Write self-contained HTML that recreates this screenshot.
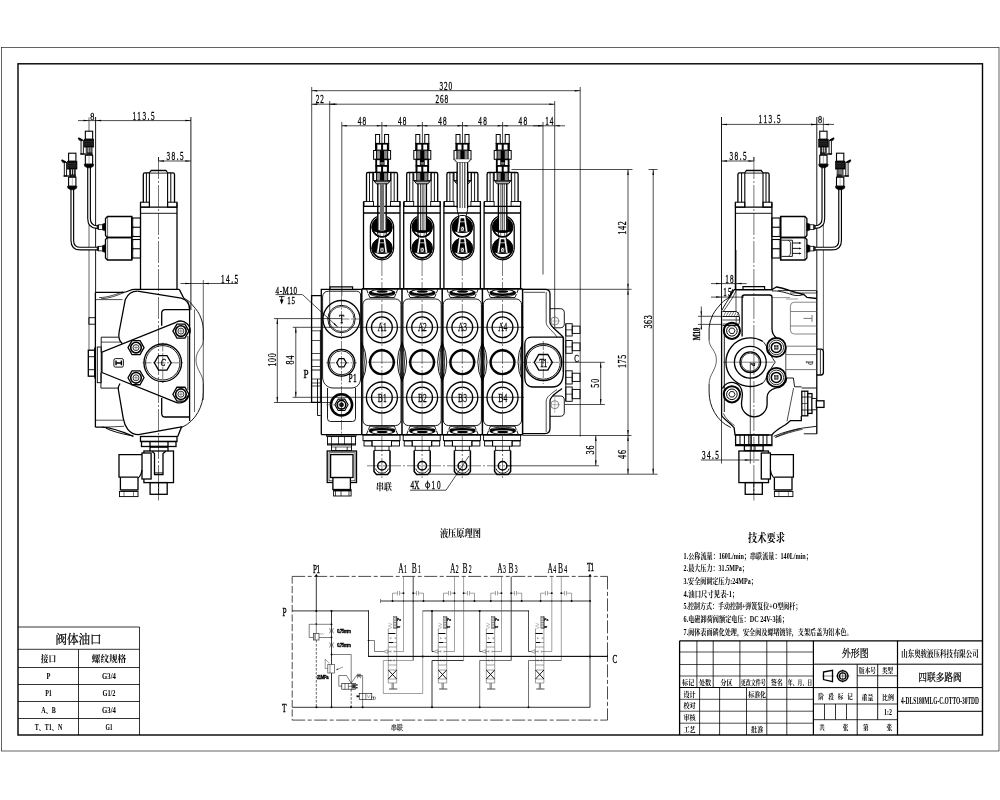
<!DOCTYPE html>
<html><head><meta charset="utf-8"><title>drawing</title><style>html,body{margin:0;padding:0;background:#fff}svg{display:block;will-change:transform}.tb{font-family:"Liberation Serif","Noto Serif CJK SC",serif;font-weight:bold;fill:#000;stroke:none}.tr{font-family:"Liberation Serif","Noto Serif CJK SC",serif;fill:#000;stroke:#000;stroke-width:0.25}</style></head>
<body><svg width="1000" height="800" viewBox="0 0 1000 800" fill="none" stroke="#000" stroke-linecap="butt"><rect x="0" y="0" width="1000" height="800" fill="#fff" stroke="none"/>
<rect x="1.5" y="47.5" width="997.5" height="703.5" stroke="#222" stroke-width="0.7" fill="none"/>
<rect x="18" y="63.8" width="964.5" height="671.2" stroke="#000" stroke-width="1.4" fill="none"/>
<path d="M18 627L139.5 627" stroke="#000" stroke-width="0.8"/>
<path d="M139.5 627L139.5 735" stroke="#000" stroke-width="0.8"/>
<path d="M18 649.3L139.5 649.3" stroke="#000" stroke-width="0.8"/>
<path d="M18 667.5L139.5 667.5" stroke="#000" stroke-width="0.8"/>
<path d="M18 684.5L139.5 684.5" stroke="#000" stroke-width="0.8"/>
<path d="M18 701.5L139.5 701.5" stroke="#000" stroke-width="0.8"/>
<path d="M18 718.5L139.5 718.5" stroke="#000" stroke-width="0.8"/>
<path d="M78.5 649.3L78.5 735" stroke="#000" stroke-width="0.8"/>
<text class="tr" x="55.46" y="643.5" font-size="12" textLength="46.1" lengthAdjust="spacingAndGlyphs">阀体油口</text>
<text class="tb" x="40.76" y="661.8" font-size="8.6" textLength="15.5" lengthAdjust="spacingAndGlyphs">接口</text>
<text class="tb" x="91.8" y="661.8" font-size="8.6" textLength="34.4" lengthAdjust="spacingAndGlyphs">螺纹规格</text>
<text class="tb" x="46.51" y="679.3" font-size="8.2" textLength="3.97" lengthAdjust="spacingAndGlyphs">P</text>
<text class="tb" x="102.08" y="679.3" font-size="8.2" textLength="13.83" lengthAdjust="spacingAndGlyphs">G3/4</text>
<text class="tb" x="45.14" y="696.3" font-size="8.2" textLength="6.72" lengthAdjust="spacingAndGlyphs">P1</text>
<text class="tb" x="102.46" y="696.3" font-size="8.2" textLength="13.08" lengthAdjust="spacingAndGlyphs">G1/2</text>
<text class="tb" x="41.26" y="713.3" font-size="8.2" textLength="14.56" lengthAdjust="spacingAndGlyphs">A、B</text>
<text class="tb" x="102.08" y="713.3" font-size="8.2" textLength="13.83" lengthAdjust="spacingAndGlyphs">G3/4</text>
<text class="tb" x="34.71" y="730.3" font-size="8.2" textLength="27.55" lengthAdjust="spacingAndGlyphs">T、T1、N</text>
<text class="tb" x="105.39" y="730.3" font-size="8.2" textLength="7.22" lengthAdjust="spacingAndGlyphs">G1</text>
<path d="M679.6 640.8L679.6 735" stroke="#000" stroke-width="1.3"/>
<path d="M679.6 640.8L982.5 640.8" stroke="#000" stroke-width="1.3"/>
<path d="M679.6 652L813.3 652" stroke="#000" stroke-width="0.7"/>
<path d="M679.6 664.5L813.3 664.5" stroke="#000" stroke-width="0.7"/>
<path d="M679.6 676L813.3 676" stroke="#000" stroke-width="0.7"/>
<path d="M679.6 687.5L813.3 687.5" stroke="#000" stroke-width="1.1"/>
<path d="M679.6 699.3L813.3 699.3" stroke="#000" stroke-width="0.7"/>
<path d="M679.6 711.2L813.3 711.2" stroke="#000" stroke-width="0.7"/>
<path d="M679.6 723.2L813.3 723.2" stroke="#000" stroke-width="0.7"/>
<path d="M696.9 640.8L696.9 687.5" stroke="#000" stroke-width="0.8"/>
<path d="M713.2 640.8L713.2 687.5" stroke="#000" stroke-width="0.8"/>
<path d="M739.9 640.8L739.9 687.5" stroke="#000" stroke-width="0.8"/>
<path d="M766.8 640.8L766.8 735" stroke="#000" stroke-width="0.8"/>
<path d="M786.8 640.8L786.8 735" stroke="#000" stroke-width="0.8"/>
<path d="M699.6 687.5L699.6 735" stroke="#000" stroke-width="0.8"/>
<path d="M719.6 687.5L719.6 735" stroke="#000" stroke-width="0.8"/>
<path d="M746.5 687.5L746.5 735" stroke="#000" stroke-width="0.8"/>
<path d="M813.4 640.8L813.4 735" stroke="#000" stroke-width="1.2"/>
<path d="M897.5 640.8L897.5 735" stroke="#000" stroke-width="1.2"/>
<path d="M813.4 664.2L982.5 664.2" stroke="#000" stroke-width="1"/>
<path d="M813.4 687.6L982.5 687.6" stroke="#000" stroke-width="1"/>
<path d="M897.5 711.3L982.5 711.3" stroke="#000" stroke-width="1"/>
<path d="M857.2 675.8L897.5 675.8" stroke="#000" stroke-width="0.8"/>
<path d="M813.4 704L897.5 704" stroke="#000" stroke-width="0.8"/>
<path d="M813.4 719.7L897.5 719.7" stroke="#000" stroke-width="0.8"/>
<path d="M857.2 664.2L857.2 735" stroke="#000" stroke-width="0.9"/>
<path d="M877.7 664.2L877.7 719.7" stroke="#000" stroke-width="0.9"/>
<path d="M824.5 704L824.5 719.7" stroke="#000" stroke-width="0.8"/>
<path d="M835.5 704L835.5 719.7" stroke="#000" stroke-width="0.8"/>
<path d="M846.5 704L846.5 719.7" stroke="#000" stroke-width="0.8"/>
<text class="tb" x="682.08" y="685" font-size="7.2" textLength="12.24" lengthAdjust="spacingAndGlyphs">标记</text>
<text class="tb" x="698.88" y="685" font-size="7.2" textLength="12.24" lengthAdjust="spacingAndGlyphs">处数</text>
<text class="tb" x="720.38" y="685" font-size="7.2" textLength="12.24" lengthAdjust="spacingAndGlyphs">分区</text>
<text class="tb" x="740.7" y="685" font-size="7.2" textLength="25.2" lengthAdjust="spacingAndGlyphs">更改文件号</text>
<text class="tb" x="770.68" y="685" font-size="7.2" textLength="12.24" lengthAdjust="spacingAndGlyphs">签名</text>
<text class="tb" x="787.76" y="685" font-size="7.2" textLength="24.48" lengthAdjust="spacingAndGlyphs">年、月、日</text>
<text class="tb" x="683.48" y="696.5" font-size="7.2" textLength="12.24" lengthAdjust="spacingAndGlyphs">设计</text>
<text class="tb" x="748.34" y="696.5" font-size="7.2" textLength="17.7" lengthAdjust="spacingAndGlyphs">标准化</text>
<text class="tb" x="683.48" y="708.4" font-size="7.2" textLength="12.24" lengthAdjust="spacingAndGlyphs">校对</text>
<text class="tb" x="683.48" y="720" font-size="7.2" textLength="12.24" lengthAdjust="spacingAndGlyphs">审核</text>
<text class="tb" x="683.48" y="731.8" font-size="7.2" textLength="12.24" lengthAdjust="spacingAndGlyphs">工艺</text>
<text class="tb" x="751.08" y="731.8" font-size="7.2" textLength="12.24" lengthAdjust="spacingAndGlyphs">批准</text>
<text class="tr" x="841.91" y="657" font-size="10.5" textLength="26.8" lengthAdjust="spacingAndGlyphs">外形图</text>
<text class="tb" x="859.1" y="672.8" font-size="7" textLength="16.8" lengthAdjust="spacingAndGlyphs">版本号</text>
<text class="tb" x="881.9" y="672.8" font-size="7" textLength="11.2" lengthAdjust="spacingAndGlyphs">类型</text>
<text class="tb" x="818.2" y="698.8" font-size="7" textLength="5.6" lengthAdjust="spacingAndGlyphs">阶</text>
<text class="tb" x="828.2" y="698.8" font-size="7" textLength="5.6" lengthAdjust="spacingAndGlyphs">段</text>
<text class="tb" x="837.7" y="698.8" font-size="7" textLength="5.6" lengthAdjust="spacingAndGlyphs">标</text>
<text class="tb" x="847.2" y="698.8" font-size="7" textLength="5.6" lengthAdjust="spacingAndGlyphs">记</text>
<text class="tb" x="861.55" y="699.5" font-size="7" textLength="11.9" lengthAdjust="spacingAndGlyphs">重量</text>
<text class="tb" x="882.05" y="699.5" font-size="7" textLength="11.9" lengthAdjust="spacingAndGlyphs">比例</text>
<text class="tb" x="884.08" y="715" font-size="7.5" textLength="7.84" lengthAdjust="spacingAndGlyphs">1:2</text>
<text class="tb" x="819.2" y="730" font-size="7" textLength="5.6" lengthAdjust="spacingAndGlyphs">共</text>
<text class="tb" x="842.7" y="730" font-size="7" textLength="5.6" lengthAdjust="spacingAndGlyphs">张</text>
<text class="tb" x="862.9" y="730" font-size="7" textLength="5.6" lengthAdjust="spacingAndGlyphs">第</text>
<text class="tb" x="886.4" y="730" font-size="7" textLength="5.6" lengthAdjust="spacingAndGlyphs">张</text>
<path d="M823.5 672L832.5 670.3L832.5 681.6L823.5 679.6Z" stroke="#000" stroke-width="1.3" fill="none"/>
<path d="M822.3 676L833.8 676" stroke="#000" stroke-width="0.5"/>
<circle cx="842.7" cy="676" r="5.3" stroke="#000" stroke-width="1.4" fill="none"/>
<circle cx="842.7" cy="676" r="3.2" stroke="#000" stroke-width="1.3" fill="none"/>
<path d="M836 676L849.4 676" stroke="#000" stroke-width="0.5"/>
<path d="M842.7 669.3L842.7 682.7" stroke="#000" stroke-width="0.5"/>
<text class="tb" x="901.25" y="656.6" font-size="9.2" textLength="77.5" lengthAdjust="spacingAndGlyphs">山东奥骏液压科技有限公司</text>
<text class="tr" x="918.25" y="680.8" font-size="10.5" textLength="43.5" lengthAdjust="spacingAndGlyphs">四联多路阀</text>
<text class="tb" x="901" y="703.6" font-size="9.5" textLength="78" lengthAdjust="spacingAndGlyphs">4-DLS180MLG-C.OTTO-30TDD</text>
<text class="tb" x="747.96" y="542.4" font-size="11" textLength="37.08" lengthAdjust="spacingAndGlyphs">技术要求</text>
<text class="tb" x="683.6" y="558.6" font-size="7.6" textLength="128.2" lengthAdjust="spacingAndGlyphs">1.公称流量：160L/min；串联流量：140L/min；</text>
<text class="tb" x="683.6" y="571.3" font-size="7.6" textLength="64.2" lengthAdjust="spacingAndGlyphs">2.最大压力：31.5MPa；</text>
<text class="tb" x="683.6" y="584" font-size="7.6" textLength="73.2" lengthAdjust="spacingAndGlyphs">3.安全阀调定压力:24MPa；</text>
<text class="tb" x="683.6" y="596.6" font-size="7.6" textLength="54.6" lengthAdjust="spacingAndGlyphs">4.油口尺寸见表-1；</text>
<text class="tb" x="683.6" y="609.3" font-size="7.6" textLength="117.7" lengthAdjust="spacingAndGlyphs">5.控制方式：手动控制+弹簧复位+O型阀杆；</text>
<text class="tb" x="683.6" y="622" font-size="7.6" textLength="104.2" lengthAdjust="spacingAndGlyphs">6.电磁卸荷阀额定电压：DC 24V-3插；</text>
<text class="tb" x="683.6" y="634.6" font-size="7.6" textLength="169.1" lengthAdjust="spacingAndGlyphs">7.阀体表面磷化处理，安全阀及螺堵镀锌，支架后盖为铝本色。</text>
<path d="M89 117.5L89 350" stroke="#222" stroke-width="0.7"/>
<path d="M95.6 117L95.6 292.4" stroke="#000" stroke-width="0.9"/>
<path d="M190.9 117L190.9 310" stroke="#000" stroke-width="0.9"/>
<path d="M89.05 166V218.6Q89.05 227.1 97.2 227.1H98" stroke="#000" stroke-width="3.8" fill="none"/>
<path d="M89.05 166V218.6Q89.05 227.1 97.2 227.1H98" stroke="#fff" stroke-width="1.5" fill="none"/>
<path d="M72.3 188V240.4Q72.3 248.6 80.4 248.6H98" stroke="#000" stroke-width="3.8" fill="none"/>
<path d="M72.3 188V240.4Q72.3 248.6 80.4 248.6H98" stroke="#fff" stroke-width="1.5" fill="none"/>
<rect x="85.35" y="131.2" width="7.3" height="8" stroke="#000" stroke-width="1.1" fill="#fff"/>
<path d="M78.25 138.1L82.45 140.3" stroke="#000" stroke-width="2" fill="none"/>
<path d="M78.65 139.8L80.85 141" stroke="#000" stroke-width="0.7" fill="none"/>
<rect x="81.05" y="140.4" width="2.3" height="13.6" stroke="#000" stroke-width="0.9" fill="#fff"/>
<path d="M80.25 154L85.85 154" stroke="#000" stroke-width="1.3"/>
<rect x="84.15" y="139.2" width="9.6" height="7.9" stroke="#000" stroke-width="0.6" fill="#0a0a0a"/>
<path d="M84.85 141.4L93.05 141.4" stroke="#777" stroke-width="0.35"/>
<path d="M84.85 143.2L93.05 143.2" stroke="#777" stroke-width="0.35"/>
<path d="M84.85 145L93.05 145" stroke="#777" stroke-width="0.35"/>
<rect x="86.15" y="147.1" width="5.9" height="8.1" stroke="#000" stroke-width="0.7" fill="#fff"/>
<path d="M87.15 147.2L87.15 155.2" stroke="#111" stroke-width="1.1"/>
<path d="M89.15 147.2L89.15 155.2" stroke="#111" stroke-width="1.1"/>
<path d="M91.05 147.2L91.05 155.2" stroke="#111" stroke-width="1.1"/>
<rect x="87.55" y="152.8" width="4.5" height="2.4" stroke="#000" stroke-width="0.4" fill="#222"/>
<rect x="85.35" y="155.2" width="7.3" height="9" stroke="#000" stroke-width="1.1" fill="#fff"/>
<path d="M89.05 155.8L89.05 163.6" stroke="#aaa" stroke-width="0.9"/>
<path d="M84.15 164.2H93.75L93.35 166.2L90.75 167.8H87.35L84.55 166.2Z" stroke="#000" stroke-width="0.5" fill="#000"/>
<rect x="68.6" y="153.2" width="7.3" height="8" stroke="#000" stroke-width="1.1" fill="#fff"/>
<path d="M61.5 160.1L65.7 162.3" stroke="#000" stroke-width="2" fill="none"/>
<path d="M61.9 161.8L64.1 163" stroke="#000" stroke-width="0.7" fill="none"/>
<rect x="64.3" y="162.4" width="2.3" height="13.6" stroke="#000" stroke-width="0.9" fill="#fff"/>
<path d="M63.5 176L69.1 176" stroke="#000" stroke-width="1.3"/>
<rect x="67.4" y="161.2" width="9.6" height="7.9" stroke="#000" stroke-width="0.6" fill="#0a0a0a"/>
<path d="M68.1 163.4L76.3 163.4" stroke="#777" stroke-width="0.35"/>
<path d="M68.1 165.2L76.3 165.2" stroke="#777" stroke-width="0.35"/>
<path d="M68.1 167L76.3 167" stroke="#777" stroke-width="0.35"/>
<rect x="69.4" y="169.1" width="5.9" height="8.1" stroke="#000" stroke-width="0.7" fill="#fff"/>
<path d="M70.4 169.2L70.4 177.2" stroke="#111" stroke-width="1.1"/>
<path d="M72.4 169.2L72.4 177.2" stroke="#111" stroke-width="1.1"/>
<path d="M74.3 169.2L74.3 177.2" stroke="#111" stroke-width="1.1"/>
<rect x="70.8" y="174.8" width="4.5" height="2.4" stroke="#000" stroke-width="0.4" fill="#222"/>
<rect x="68.6" y="177.2" width="7.3" height="9" stroke="#000" stroke-width="1.1" fill="#fff"/>
<path d="M72.3 177.8L72.3 185.6" stroke="#aaa" stroke-width="0.9"/>
<path d="M67.4 186.2H77L76.6 188.2L74 189.8H70.6L67.8 188.2Z" stroke="#000" stroke-width="0.5" fill="#000"/>
<path d="M143.3 202.4V174.4Q143.3 172.8 144.9 172.8H172.9Q174.5 172.8 174.5 174.4V202.4" stroke="#000" stroke-width="1.3" fill="none"/>
<path d="M149.4 172.8L151.2 170.4H166L167.6 172.8" stroke="#000" stroke-width="1.1" fill="#ccc"/>
<path d="M146.4 173L146.4 202.2" stroke="#000" stroke-width="1"/>
<path d="M170.8 173L170.8 202.2" stroke="#000" stroke-width="1"/>
<path d="M149.4 172.8L149.4 207.2" stroke="#000" stroke-width="1.1"/>
<path d="M167.6 172.8L167.6 207.2" stroke="#000" stroke-width="1.1"/>
<rect x="140.5" y="202.2" width="8.9" height="5" stroke="#000" stroke-width="1" fill="none"/>
<rect x="167.6" y="202.2" width="9.4" height="5" stroke="#000" stroke-width="1" fill="none"/>
<path d="M140.5 207.2L177 207.2" stroke="#000" stroke-width="1.3"/>
<path d="M140.5 213.3L177 213.3" stroke="#000" stroke-width="0.9"/>
<path d="M140.5 202.4L140.5 289.3" stroke="#000" stroke-width="1.3"/>
<path d="M177 202.4L177 289.3" stroke="#000" stroke-width="1.3"/>
<path d="M131.8 216.5H107.5L105.5 218.5V235.5L107.5 237.5H131.8Z" stroke="#000" stroke-width="1.3" fill="none"/>
<path d="M131.8 237.5H107.5L105.5 239.5V258L107.5 260H131.8Z" stroke="#000" stroke-width="1.3" fill="none"/>
<path d="M107.6 217L107.6 260" stroke="#000" stroke-width="0.6"/>
<path d="M131.8 216.5L131.8 260" stroke="#000" stroke-width="1.3"/>
<rect x="131.8" y="218" width="8.7" height="18.5" stroke="#000" stroke-width="1.1" fill="none"/>
<path d="M131.8 227.25L140.5 227.25" stroke="#000" stroke-width="1.1"/>
<path d="M133.2 218Q132.4 222.62 133.2 227.25M133.2 227.25Q132.4 231.88 133.2 236.5" stroke="#000" stroke-width="0.5" fill="none"/>
<rect x="131.8" y="239.5" width="8.7" height="18.5" stroke="#000" stroke-width="1.1" fill="none"/>
<path d="M131.8 248.75L140.5 248.75" stroke="#000" stroke-width="1.1"/>
<path d="M133.2 239.5Q132.4 244.12 133.2 248.75M133.2 248.75Q132.4 253.38 133.2 258" stroke="#000" stroke-width="0.5" fill="none"/>
<path d="M105.5 223.1L102.5 224.1V230.1L105.5 231.1Z" stroke="#000" stroke-width="0.5" fill="#000"/>
<rect x="98.6" y="224.8" width="3.9" height="4.6" stroke="#000" stroke-width="0.8" fill="#fff"/>
<path d="M98.6 224.8L97 225.3V228.9L98.6 229.4Z" stroke="#000" stroke-width="0.4" fill="#222"/>
<path d="M105.5 244.6L102.5 245.6V251.6L105.5 252.6Z" stroke="#000" stroke-width="0.5" fill="#000"/>
<rect x="98.6" y="246.3" width="3.9" height="4.6" stroke="#000" stroke-width="0.8" fill="#fff"/>
<path d="M98.6 246.3L97 246.8V250.4L98.6 250.9Z" stroke="#000" stroke-width="0.4" fill="#222"/>
<path d="M158.5 157L158.5 500.5" stroke="#000" stroke-width="0.55" stroke-dasharray="22 2 2 2"/>
<path d="M179.3 289.4L183.8 298.2" stroke="#000" stroke-width="1.3" fill="none"/>
<path d="M183.8 298.2C188 300 190.5 302.5 192.4 305C196.5 309.5 199.5 313.5 200.9 318C202.5 322 203.3 326 203.3 330V340" stroke="#000" stroke-width="0.9" fill="none"/>
<path d="M203.3 340C203.3 348 196 350 196 360C196 370 203.3 374 203.3 384" stroke="#222" stroke-width="0.7" fill="none"/>
<path d="M203.3 384V392C203.3 406 196 421 181.6 427.5" stroke="#000" stroke-width="0.9" fill="none"/>
<rect x="143.9" y="451" width="29.6" height="31.6" stroke="#000" stroke-width="1.3" fill="none"/>
<rect x="150.1" y="482.6" width="17.1" height="11.7" stroke="#000" stroke-width="1.3" fill="none"/>
<path d="M158.6 482.6L158.6 494.3" stroke="#000" stroke-width="0.9"/>
<rect x="142" y="453" width="9.1" height="26" stroke="#000" stroke-width="1.3" fill="#fff"/>
<path d="M142 454.7H119V477.2H138" stroke="#000" stroke-width="1.3" fill="none"/>
<path d="M142 470Q141 476 138 478V489.8H120.4V477.2" stroke="#000" stroke-width="1.3" fill="none"/>
<rect x="119.5" y="491.5" width="18.5" height="5.1" stroke="#000" stroke-width="0.9" fill="none"/>
<path d="M121 490.6L137.5 490.6" stroke="#000" stroke-width="0.5"/>
<path d="M124 491.5L124 496.6" stroke="#000" stroke-width="0.5"/>
<path d="M133.5 491.5L133.5 496.6" stroke="#000" stroke-width="0.5"/>
<path d="M78 120.6L191 120.6" stroke="#000" stroke-width="0.7"/>
<path d="M89 120.6L83.5 121.35L83.5 119.85Z" fill="#000" stroke="none"/>
<path d="M95.6 120.6L101.1 119.85L101.1 121.35Z" fill="#000" stroke="none"/>
<path d="M190.9 120.6L185.4 121.35L185.4 119.85Z" fill="#000" stroke="none"/>
<text transform="translate(92.3 119.8) scale(0.75 1)" font-family="'Liberation Serif', serif" font-size="11" text-anchor="middle" fill="#000" stroke="#000" stroke-width="0.3">8</text>
<text transform="translate(143.5 119.8) scale(0.62 1)" font-family="'Liberation Serif', serif" font-size="11.6" text-anchor="middle" fill="#000" stroke="#000" stroke-width="0.3" textLength="35.48" lengthAdjust="spacing">113.5</text>
<path d="M158.5 157L158.5 161" stroke="#000" stroke-width="0.7"/>
<path d="M158.5 161L190.9 161" stroke="#000" stroke-width="0.7"/>
<path d="M158.5 161L164 160.25L164 161.75Z" fill="#000" stroke="none"/>
<path d="M190.9 161L185.4 161.75L185.4 160.25Z" fill="#000" stroke="none"/>
<text transform="translate(175 160.2) scale(0.62 1)" font-family="'Liberation Serif', serif" font-size="11.6" text-anchor="middle" fill="#000" stroke="#000" stroke-width="0.3" textLength="27.42" lengthAdjust="spacing">38.5</text>
<path d="M180.5 283.5L238 283.5" stroke="#000" stroke-width="0.7"/>
<path d="M190.9 283.5L185.4 284.25L185.4 282.75Z" fill="#000" stroke="none"/>
<path d="M203.3 283.5L208.8 282.75L208.8 284.25Z" fill="#000" stroke="none"/>
<path d="M203.3 280L203.3 400" stroke="#222" stroke-width="0.7"/>
<text transform="translate(229.5 283) scale(0.62 1)" font-family="'Liberation Serif', serif" font-size="11.6" text-anchor="middle" fill="#000" stroke="#000" stroke-width="0.3" textLength="27.42" lengthAdjust="spacing">14.5</text>
<path d="M95.4 292.4L95.4 427.2" stroke="#000" stroke-width="1.3"/>
<path d="M95.4 292.4H122.7C128 292.2 130 289.4 134.4 289.4H179.3" stroke="#000" stroke-width="1.3" fill="none"/>
<path d="M101 298.8C110 298.5 118 295 124 292.6" stroke="#000" stroke-width="0.7" fill="none"/>
<path d="M99 297.6C108 297.6 117 294 123 291.8" stroke="#000" stroke-width="0.7" fill="none"/>
<path d="M95.4 299.6L122.5 299.6" stroke="#000" stroke-width="0.7"/>
<path d="M137.5 291.1L181.2 298.2C186 299.5 189.6 303.5 189.6 309.3" stroke="#000" stroke-width="1.3" fill="none"/>
<path d="M137.5 291.1C131 291.2 127.5 294.5 125.3 299.5L119.1 332C118.3 337 119 341 122.4 343.8" stroke="#000" stroke-width="1.3" fill="none"/>
<path d="M120 383.5C118.6 385.5 118 387.5 118.4 390L123.2 418.2C124.5 426 129 434.6 138.6 434.6L181.6 426.8L177.6 436.7" stroke="#000" stroke-width="1.3" fill="none"/>
<path d="M161.7 325.8V313.2Q161.7 309.6 165.3 309.6H189.6" stroke="#000" stroke-width="1.3" fill="none"/>
<path d="M161.7 398V413.4Q161.7 417 165.3 417H189.6" stroke="#000" stroke-width="1.3" fill="none"/>
<path d="M189.6 306L189.6 421" stroke="#000" stroke-width="1.3"/>
<path d="M194.5 309.5L194.5 412" stroke="#222" stroke-width="0.7"/>
<path d="M101.2 352.5V337.2H118.5" stroke="#000" stroke-width="0.9" fill="none"/>
<path d="M101.2 342.1L120 342.1" stroke="#000" stroke-width="0.7"/>
<path d="M100.9 372.5V388.1H118.4" stroke="#000" stroke-width="0.9" fill="none"/>
<path d="M95.4 427.2H102.4C112 427.8 122 431.5 133.5 436.3" stroke="#000" stroke-width="1.3" fill="none"/>
<path d="M106 428.2C113 431.8 124 434.2 133 436" stroke="#000" stroke-width="1" fill="none"/>
<path d="M95.4 420.2L123.2 420.2" stroke="#000" stroke-width="0.7"/>
<path d="M102 427.2L124 426.3" stroke="#000" stroke-width="0.7" fill="none"/>
<rect x="88.9" y="317.7" width="6.5" height="6.5" stroke="#000" stroke-width="0.9" fill="none"/>
<rect x="97.3" y="347" width="3.9" height="35.7" stroke="#000" stroke-width="0.9" fill="none"/>
<rect x="88.3" y="350.2" width="6.5" height="26" stroke="#000" stroke-width="1.3" fill="#fff"/>
<path d="M88.3 356.7L94.8 356.7" stroke="#000" stroke-width="0.9"/>
<path d="M88.3 369.7L94.8 369.7" stroke="#000" stroke-width="0.9"/>
<path d="M95 347.5L95 378.5" stroke="#000" stroke-width="1.6"/>
<path d="M101.9 372.5V352.2L176 322.3" stroke="#000" stroke-width="1.3" fill="none"/>
<path d="M101.9 372.5L176 402.3" stroke="#000" stroke-width="1.3" fill="none"/>
<path d="M176 322.3A9.6 9.6 0 0 1 189.6 334" stroke="#000" stroke-width="1.3" fill="none"/>
<path d="M176 402.3A9.6 9.6 0 0 0 188.5 396" stroke="#000" stroke-width="1.3" fill="none"/>
<path d="M187.9 336L187.9 390" stroke="#000" stroke-width="0.9"/>
<path d="M144 347.6L140 354.53L132 354.53L128 347.6L132 340.67L140 340.67Z" stroke="#000" stroke-width="1.3" fill="none"/>
<circle cx="136" cy="347.6" r="5.3" stroke="#000" stroke-width="1.6" fill="none"/>
<circle cx="136" cy="347.6" r="3" stroke="#000" stroke-width="0.8" fill="none"/>
<path d="M133.8 347.6L138.2 347.6" stroke="#000" stroke-width="0.4"/>
<path d="M136 345.4L136 349.8" stroke="#000" stroke-width="0.4"/>
<path d="M144 377.8L140 384.73L132 384.73L128 377.8L132 370.87L140 370.87Z" stroke="#000" stroke-width="1.3" fill="none"/>
<circle cx="136" cy="377.8" r="5.3" stroke="#000" stroke-width="1.6" fill="none"/>
<circle cx="136" cy="377.8" r="3" stroke="#000" stroke-width="0.8" fill="none"/>
<path d="M133.8 377.8L138.2 377.8" stroke="#000" stroke-width="0.4"/>
<path d="M136 375.6L136 380" stroke="#000" stroke-width="0.4"/>
<path d="M188.9 331.1L184.9 338.03L176.9 338.03L172.9 331.1L176.9 324.17L184.9 324.17Z" stroke="#000" stroke-width="1.3" fill="none"/>
<circle cx="180.9" cy="331.1" r="5.3" stroke="#000" stroke-width="1.6" fill="none"/>
<circle cx="180.9" cy="331.1" r="3" stroke="#000" stroke-width="0.8" fill="none"/>
<path d="M178.7 331.1L183.1 331.1" stroke="#000" stroke-width="0.4"/>
<path d="M180.9 328.9L180.9 333.3" stroke="#000" stroke-width="0.4"/>
<path d="M188.9 394.2L184.9 401.13L176.9 401.13L172.9 394.2L176.9 387.27L184.9 387.27Z" stroke="#000" stroke-width="1.3" fill="none"/>
<circle cx="180.9" cy="394.2" r="5.3" stroke="#000" stroke-width="1.6" fill="none"/>
<circle cx="180.9" cy="394.2" r="3" stroke="#000" stroke-width="0.8" fill="none"/>
<path d="M178.7 394.2L183.1 394.2" stroke="#000" stroke-width="0.4"/>
<path d="M180.9 392L180.9 396.4" stroke="#000" stroke-width="0.4"/>
<circle cx="162.75" cy="362.8" r="18.8" stroke="#000" stroke-width="1.3" fill="none"/>
<circle cx="162.75" cy="362.8" r="17.2" stroke="#000" stroke-width="0.9" fill="none"/>
<path d="M171.15 362.8L166.95 370.07L158.55 370.07L154.35 362.8L158.55 355.53L166.95 355.53Z" stroke="#000" stroke-width="1.3" fill="none"/>
<path d="M142.5 362.8L183 362.8" stroke="#000" stroke-width="0.5" stroke-dasharray="9 1.5 2 1.5"/>
<path d="M162.75 342.5L162.75 383" stroke="#000" stroke-width="0.5" stroke-dasharray="9 1.5 2 1.5"/>
<text transform="translate(163 366) scale(0.7 1)" font-family="'Liberation Serif', serif" font-size="10" text-anchor="middle" fill="#000" stroke="#000" stroke-width="0.3" font-style="italic">C</text>
<rect x="113.9" y="358.6" width="9.5" height="8.5" stroke="#000" stroke-width="0.9" fill="none" rx="1.5"/>
<path d="M116 360.6V365.2M121.4 360.6V365.2M116 363H121.4" stroke="#000" stroke-width="1.4" fill="none"/>
<rect x="140.5" y="436.5" width="36.5" height="5" stroke="#000" stroke-width="1.3" fill="none"/>
<rect x="141.5" y="441.5" width="34.5" height="5" stroke="#000" stroke-width="1.3" fill="none"/>
<path d="M150 441.5L150 451.2" stroke="#000" stroke-width="1.3"/>
<path d="M168 441.5L168 451.2" stroke="#000" stroke-width="1.3"/>
<path d="M150 446.8L168 446.8" stroke="#000" stroke-width="2"/>
<path d="M152 451.2L154.5 453.6V474.5H163V453.6L165.8 451.2" stroke="#000" stroke-width="1.3" fill="none"/>
<path d="M154.5 472.8L163 472.8" stroke="#000" stroke-width="0.8"/>
<path d="M311.7 87L311.7 300" stroke="#000" stroke-width="0.7"/>
<path d="M580.2 87L580.2 436.5" stroke="#000" stroke-width="0.7"/>
<path d="M311.7 90.7L580.2 90.7" stroke="#000" stroke-width="0.7"/>
<path d="M311.7 90.7L317.2 89.95L317.2 91.45Z" fill="#000" stroke="none"/>
<path d="M580.2 90.7L574.7 91.45L574.7 89.95Z" fill="#000" stroke="none"/>
<text transform="translate(445.8 89.6) scale(0.62 1)" font-family="'Liberation Serif', serif" font-size="11.6" text-anchor="middle" fill="#000" stroke="#000" stroke-width="0.3" textLength="20.32" lengthAdjust="spacing">320</text>
<path d="M329.7 101L329.7 328" stroke="#000" stroke-width="0.7"/>
<path d="M554.7 101L554.7 327" stroke="#000" stroke-width="0.7"/>
<path d="M311.7 104.2L554.7 104.2" stroke="#000" stroke-width="0.7"/>
<path d="M329.7 104.2L335.2 103.45L335.2 104.95Z" fill="#000" stroke="none"/>
<path d="M554.7 104.2L549.2 104.95L549.2 103.45Z" fill="#000" stroke="none"/>
<path d="M311.7 104.2L317.2 103.45L317.2 104.95Z" fill="#000" stroke="none"/>
<path d="M329.7 104.2L337 104.2" stroke="#000" stroke-width="0.7"/>
<text transform="translate(441.8 103.2) scale(0.62 1)" font-family="'Liberation Serif', serif" font-size="11.6" text-anchor="middle" fill="#000" stroke="#000" stroke-width="0.3" textLength="20.32" lengthAdjust="spacing">268</text>
<text transform="translate(319.8 103.2) scale(0.62 1)" font-family="'Liberation Serif', serif" font-size="11.6" text-anchor="middle" fill="#000" stroke="#000" stroke-width="0.3" textLength="13.23" lengthAdjust="spacing">22</text>
<path d="M341.8 125.8L543 125.8" stroke="#000" stroke-width="0.7"/>
<path d="M341.8 122L341.8 296" stroke="#000" stroke-width="0.7"/>
<path d="M381.9 122L381.9 143.5" stroke="#000" stroke-width="0.7"/>
<path d="M422.4 122L422.4 143.5" stroke="#000" stroke-width="0.7"/>
<path d="M462.5 122L462.5 143.5" stroke="#000" stroke-width="0.7"/>
<path d="M502.6 122L502.6 143.5" stroke="#000" stroke-width="0.7"/>
<path d="M543 122L543 274.5" stroke="#000" stroke-width="0.7"/>
<path d="M341.8 125.8L346.8 125.1L346.8 126.5Z" fill="#000" stroke="none"/>
<path d="M381.9 125.8L376.9 126.5L376.9 125.1Z" fill="#000" stroke="none"/>
<text transform="translate(361.85 124.6) scale(0.62 1)" font-family="'Liberation Serif', serif" font-size="11.6" text-anchor="middle" fill="#000" stroke="#000" stroke-width="0.3" textLength="13.55" lengthAdjust="spacing">48</text>
<path d="M381.9 125.8L386.9 125.1L386.9 126.5Z" fill="#000" stroke="none"/>
<path d="M422.4 125.8L417.4 126.5L417.4 125.1Z" fill="#000" stroke="none"/>
<text transform="translate(402.15 124.6) scale(0.62 1)" font-family="'Liberation Serif', serif" font-size="11.6" text-anchor="middle" fill="#000" stroke="#000" stroke-width="0.3" textLength="13.55" lengthAdjust="spacing">48</text>
<path d="M422.4 125.8L427.4 125.1L427.4 126.5Z" fill="#000" stroke="none"/>
<path d="M462.5 125.8L457.5 126.5L457.5 125.1Z" fill="#000" stroke="none"/>
<text transform="translate(442.45 124.6) scale(0.62 1)" font-family="'Liberation Serif', serif" font-size="11.6" text-anchor="middle" fill="#000" stroke="#000" stroke-width="0.3" textLength="13.55" lengthAdjust="spacing">48</text>
<path d="M462.5 125.8L467.5 125.1L467.5 126.5Z" fill="#000" stroke="none"/>
<path d="M502.6 125.8L497.6 126.5L497.6 125.1Z" fill="#000" stroke="none"/>
<text transform="translate(482.55 124.6) scale(0.62 1)" font-family="'Liberation Serif', serif" font-size="11.6" text-anchor="middle" fill="#000" stroke="#000" stroke-width="0.3" textLength="13.55" lengthAdjust="spacing">48</text>
<path d="M502.6 125.8L507.6 125.1L507.6 126.5Z" fill="#000" stroke="none"/>
<path d="M543 125.8L538 126.5L538 125.1Z" fill="#000" stroke="none"/>
<text transform="translate(522.8 124.6) scale(0.62 1)" font-family="'Liberation Serif', serif" font-size="11.6" text-anchor="middle" fill="#000" stroke="#000" stroke-width="0.3" textLength="13.55" lengthAdjust="spacing">48</text>
<path d="M533 125.8L565 125.8" stroke="#000" stroke-width="0.7"/>
<path d="M554.7 125.8L559.7 125.1L559.7 126.5Z" fill="#000" stroke="none"/>
<text transform="translate(549.3 124.6) scale(0.62 1)" font-family="'Liberation Serif', serif" font-size="11.6" text-anchor="middle" fill="#000" stroke="#000" stroke-width="0.3" textLength="12.9" lengthAdjust="spacing">14</text>
<path d="M511.5 169.5L632.5 169.5" stroke="#000" stroke-width="0.7"/>
<path d="M648.5 169.5L657.5 169.5" stroke="#000" stroke-width="0.7"/>
<path d="M522.6 289.3L631.5 289.3" stroke="#000" stroke-width="0.7"/>
<path d="M522.6 435.5L631.5 435.5" stroke="#000" stroke-width="0.7"/>
<path d="M429 474.2L657.5 474.2" stroke="#000" stroke-width="0.7"/>
<path d="M628 169.5L628 474.2" stroke="#000" stroke-width="0.7"/>
<path d="M653.2 169.5L653.2 474.2" stroke="#000" stroke-width="0.7"/>
<path d="M628 169.5L628.75 175L627.25 175Z" fill="#000" stroke="none"/>
<path d="M628 289.3L627.25 283.8L628.75 283.8Z" fill="#000" stroke="none"/>
<path d="M628 289.3L628.75 294.8L627.25 294.8Z" fill="#000" stroke="none"/>
<path d="M628 435.5L627.25 430L628.75 430Z" fill="#000" stroke="none"/>
<path d="M628 435.5L628.75 441L627.25 441Z" fill="#000" stroke="none"/>
<path d="M628 474.2L627.25 468.7L628.75 468.7Z" fill="#000" stroke="none"/>
<path d="M653.2 169.5L653.95 175L652.45 175Z" fill="#000" stroke="none"/>
<path d="M653.2 474.2L652.45 468.7L653.95 468.7Z" fill="#000" stroke="none"/>
<text transform="translate(626.4 228) rotate(-90) scale(0.62 1)" font-family="'Liberation Serif', serif" font-size="12.8" text-anchor="middle" fill="#000" stroke="#000" stroke-width="0.3" textLength="21.29" lengthAdjust="spacing">142</text>
<text transform="translate(651.6 322) rotate(-90) scale(0.62 1)" font-family="'Liberation Serif', serif" font-size="12.8" text-anchor="middle" fill="#000" stroke="#000" stroke-width="0.3" textLength="21.29" lengthAdjust="spacing">363</text>
<text transform="translate(626.4 361.5) rotate(-90) scale(0.62 1)" font-family="'Liberation Serif', serif" font-size="12.8" text-anchor="middle" fill="#000" stroke="#000" stroke-width="0.3" textLength="21.29" lengthAdjust="spacing">175</text>
<text transform="translate(626.4 454.5) rotate(-90) scale(0.62 1)" font-family="'Liberation Serif', serif" font-size="12.8" text-anchor="middle" fill="#000" stroke="#000" stroke-width="0.3" textLength="14.19" lengthAdjust="spacing">46</text>
<path d="M595.8 435.5L595.8 465.8" stroke="#000" stroke-width="0.7"/>
<path d="M595.8 435.5L596.55 441L595.05 441Z" fill="#000" stroke="none"/>
<path d="M595.8 465.8L595.05 460.3L596.55 460.3Z" fill="#000" stroke="none"/>
<text transform="translate(594.2 450) rotate(-90) scale(0.62 1)" font-family="'Liberation Serif', serif" font-size="12.8" text-anchor="middle" fill="#000" stroke="#000" stroke-width="0.3" textLength="14.19" lengthAdjust="spacing">36</text>
<path d="M566 362.3L604.8 362.3" stroke="#000" stroke-width="0.7"/>
<path d="M565 404.5L604.8 404.5" stroke="#000" stroke-width="0.7"/>
<path d="M600.7 362.3L600.7 404.5" stroke="#000" stroke-width="0.7"/>
<path d="M600.7 362.3L601.45 367.8L599.95 367.8Z" fill="#000" stroke="none"/>
<path d="M600.7 404.5L599.95 399L601.45 399Z" fill="#000" stroke="none"/>
<text transform="translate(599.2 383.3) rotate(-90) scale(0.62 1)" font-family="'Liberation Serif', serif" font-size="12.8" text-anchor="middle" fill="#000" stroke="#000" stroke-width="0.3" textLength="14.19" lengthAdjust="spacing">50</text>
<path d="M367 465.8L512 465.8" stroke="#000" stroke-width="0.5" stroke-dasharray="14 2 2 2"/>
<path d="M507 465.8L599 465.8" stroke="#000" stroke-width="0.7"/>
<path d="M274 318.6L341.5 318.6" stroke="#000" stroke-width="0.7"/>
<path d="M274 402.5L330 402.5" stroke="#000" stroke-width="0.7"/>
<path d="M277.3 318.6L277.3 402.5" stroke="#000" stroke-width="0.7"/>
<path d="M277.3 318.6L278.05 324.1L276.55 324.1Z" fill="#000" stroke="none"/>
<path d="M277.3 402.5L276.55 397L278.05 397Z" fill="#000" stroke="none"/>
<text transform="translate(275.8 360) rotate(-90) scale(0.62 1)" font-family="'Liberation Serif', serif" font-size="12.8" text-anchor="middle" fill="#000" stroke="#000" stroke-width="0.3" textLength="21.29" lengthAdjust="spacing">100</text>
<path d="M292.7 327.3L524 327.3" stroke="#000" stroke-width="0.7"/>
<path d="M292.7 397.3L524 397.3" stroke="#000" stroke-width="0.7"/>
<path d="M295.8 327.3L295.8 397.3" stroke="#000" stroke-width="0.7"/>
<path d="M295.8 327.3L296.55 332.8L295.05 332.8Z" fill="#000" stroke="none"/>
<path d="M295.8 397.3L295.05 391.8L296.55 391.8Z" fill="#000" stroke="none"/>
<text transform="translate(294.3 360) rotate(-90) scale(0.62 1)" font-family="'Liberation Serif', serif" font-size="12.8" text-anchor="middle" fill="#000" stroke="#000" stroke-width="0.3" textLength="14.19" lengthAdjust="spacing">84</text>
<path d="M275.5 294.6H302.5L337.7 327" stroke="#000" stroke-width="0.7" fill="none"/>
<path d="M337.7 327L333.55 324.12L334.5 323.09Z" fill="#000" stroke="none"/>
<text transform="translate(275.6 293.7) scale(0.62 1)" font-family="'Liberation Serif', serif" font-size="11.4" text-anchor="start" fill="#000" stroke="#000" stroke-width="0.3" textLength="34.52" lengthAdjust="spacing">4-M10</text>
<text transform="translate(287.3 303.8) scale(0.62 1)" font-family="'Liberation Serif', serif" font-size="11.4" text-anchor="start" fill="#000" stroke="#000" stroke-width="0.3" textLength="12.42" lengthAdjust="spacing">15</text>
<path d="M279 296.6H284.5M281.7 296.6V300" stroke="#000" stroke-width="0.9" fill="none"/>
<path d="M281.7 304.6L279.8 299.4L283.6 299.4Z" fill="#000" stroke="none"/>
<path d="M410 490.2H446L469 456" stroke="#000" stroke-width="0.7" fill="none"/>
<text transform="translate(410.5 488.6) scale(0.62 1)" font-family="'Liberation Serif', serif" font-size="11.6" text-anchor="start" fill="#000" stroke="#000" stroke-width="0.3" textLength="14.52" lengthAdjust="spacing">4X</text>
<ellipse cx="427.6" cy="485.2" rx="2.1" ry="2.5" stroke="#000" stroke-width="0.9" fill="none"/>
<path d="M427.6 480.6L427.6 489.6" stroke="#000" stroke-width="0.9"/>
<text transform="translate(431.5 488.6) scale(0.62 1)" font-family="'Liberation Serif', serif" font-size="11.6" text-anchor="start" fill="#000" stroke="#000" stroke-width="0.3" textLength="14.52" lengthAdjust="spacing">10</text>
<text class="tb" x="376.08" y="489.5" font-size="8.8" textLength="15.84" lengthAdjust="spacingAndGlyphs">串联</text>
<path d="M321.3 434.6V289.4H361.8" stroke="#000" stroke-width="1.3" fill="none"/>
<path d="M321.3 434.6L361.8 434.6" stroke="#000" stroke-width="1.3"/>
<path d="M330 289.4V286.8H352.6V289.4" stroke="#000" stroke-width="1.2" fill="none"/>
<path d="M322.6 297C322.6 293.5 325 291.2 328.5 291.2H356.5C359 291.2 360.6 292.6 360.6 295V378C360.6 384 357 388 351 388H333C327 388 322.6 383 322.6 377Z" stroke="#000" stroke-width="0.9" fill="none"/>
<path d="M321.3 295.6H311.6V402.4H320" stroke="#000" stroke-width="1.3" fill="none"/>
<path d="M311.6 330.8L320.4 330.8" stroke="#000" stroke-width="0.7"/>
<path d="M311.6 340.5L320.4 340.5" stroke="#000" stroke-width="0.7"/>
<path d="M311.6 353.5L320.4 353.5" stroke="#000" stroke-width="0.7"/>
<path d="M311.6 360L320.4 360" stroke="#000" stroke-width="0.7"/>
<path d="M311.6 366.5L320.4 366.5" stroke="#000" stroke-width="0.7"/>
<path d="M311.6 379L320.4 379" stroke="#000" stroke-width="0.7"/>
<path d="M311.6 383L320.4 383" stroke="#000" stroke-width="0.7"/>
<path d="M311.6 386L320.4 386" stroke="#000" stroke-width="0.7"/>
<path d="M311.6 370L320.4 370" stroke="#000" stroke-width="0.9"/>
<path d="M320.4 330L320.4 402.4" stroke="#000" stroke-width="0.9"/>
<path d="M317.5 379V415.5H320.6" stroke="#000" stroke-width="0.9" fill="none"/>
<circle cx="341.5" cy="319" r="18.5" stroke="#000" stroke-width="1.3" fill="none"/>
<circle cx="341.5" cy="319" r="13.7" stroke="#000" stroke-width="0.9" fill="none"/>
<circle cx="341.5" cy="319" r="12.5" stroke="#000" stroke-width="0.7" fill="none"/>
<text transform="translate(341.7 323) scale(0.65 1)" font-family="'Liberation Serif', serif" font-size="12.5" text-anchor="middle" fill="#000" stroke="#000" stroke-width="0.3">T</text>
<path d="M341.5 319L360.5 319" stroke="#000" stroke-width="0.5" stroke-dasharray="8 1.5 2 1.5"/>
<path d="M341.5 296L341.5 390" stroke="#000" stroke-width="0.5" stroke-dasharray="10 1.5 2 1.5"/>
<circle cx="341.5" cy="362.8" r="13.4" stroke="#000" stroke-width="1.3" fill="none"/>
<circle cx="341.5" cy="362.8" r="12" stroke="#000" stroke-width="0.9" fill="none"/>
<path d="M346.3 362.8L343.9 366.96L339.1 366.96L336.7 362.8L339.1 358.64L343.9 358.64Z" stroke="#000" stroke-width="1.2" fill="none"/>
<path d="M326 362.8L357 362.8" stroke="#000" stroke-width="0.5" stroke-dasharray="9 1.5 2 1.5"/>
<text transform="translate(352.6 381.8) scale(0.62 1)" font-family="'Liberation Serif', serif" font-size="12" text-anchor="middle" fill="#000" stroke="#000" stroke-width="0.35" textLength="13.23" lengthAdjust="spacing">P1</text>
<text transform="translate(306 377.6) scale(0.7 1)" font-family="'Liberation Serif', serif" font-size="13" text-anchor="middle" fill="#000" stroke="#000" stroke-width="0.35">P</text>
<path d="M327.5 388V418.5Q327.5 421.5 330.5 421.5H352.5Q355.5 421.5 355.5 418.5V388" stroke="#000" stroke-width="0.9" fill="none"/>
<circle cx="341.5" cy="404.8" r="10.6" stroke="#000" stroke-width="2.5" fill="none"/>
<path d="M348.1 404.8L344.8 410.52L338.2 410.52L334.9 404.8L338.2 399.08L344.8 399.08Z" stroke="#000" stroke-width="1.1" fill="none"/>
<circle cx="341.5" cy="404.8" r="4.3" stroke="#000" stroke-width="1.6" fill="none"/>
<circle cx="341.5" cy="404.8" r="2.1" stroke="#000" stroke-width="0.6" fill="#111"/>
<path d="M341.5 390L341.5 436" stroke="#000" stroke-width="0.5" stroke-dasharray="10 1.5 2 1.5"/>
<path d="M326 404.8L341 404.8" stroke="#555" stroke-width="0.5"/>
<rect x="326.6" y="435.3" width="29.6" height="1.3" stroke="#000" stroke-width="0.6" fill="none"/>
<rect x="327.5" y="436.6" width="28" height="8.4" stroke="#000" stroke-width="0.9" fill="none"/>
<path d="M331.5 436.6L331.5 445" stroke="#000" stroke-width="0.7"/>
<path d="M338.5 436.6L338.5 445" stroke="#000" stroke-width="0.7"/>
<path d="M344.5 436.6L344.5 445" stroke="#000" stroke-width="0.7"/>
<path d="M351.5 436.6L351.5 445" stroke="#000" stroke-width="0.7"/>
<path d="M327.5 444L355.5 444" stroke="#000" stroke-width="1.2"/>
<rect x="331.5" y="445" width="20" height="5.6" stroke="#000" stroke-width="0.9" fill="#fff"/>
<path d="M335.8 447L335.8 450.6" stroke="#000" stroke-width="0.8"/>
<path d="M347.2 447L347.2 450.6" stroke="#000" stroke-width="0.8"/>
<path d="M331.5 447L351.5 447" stroke="#000" stroke-width="0.6"/>
<rect x="327.2" y="451" width="29.3" height="31.5" stroke="#000" stroke-width="1.3" fill="#fff"/>
<rect x="329" y="452.8" width="26" height="28" stroke="#000" stroke-width="0.6" fill="none"/>
<rect x="330.6" y="454.6" width="22.4" height="22.9" stroke="#000" stroke-width="1.3" fill="none"/>
<rect x="332.9" y="477.6" width="17.5" height="11.9" stroke="#000" stroke-width="1.3" fill="#fff"/>
<rect x="333.6" y="489.5" width="17.5" height="6.5" stroke="#000" stroke-width="0.9" fill="#fff"/>
<path d="M333.6 490.5L351.1 490.5" stroke="#000" stroke-width="1.8"/>
<path d="M341 491L341 496" stroke="#000" stroke-width="0.7"/>
<path d="M349 491L349 496" stroke="#000" stroke-width="0.7"/>
<path d="M335.5 491L335.5 496" stroke="#000" stroke-width="0.7"/>
<path d="M366.5 201.5V174Q366.5 172.5 368 172.5H396Q397.5 172.5 397.5 174V201.5" stroke="#000" stroke-width="1.3" fill="none"/>
<path d="M369.5 173L369.5 201.5" stroke="#000" stroke-width="0.9"/>
<path d="M372.7 173L372.7 201.5" stroke="#000" stroke-width="0.9"/>
<path d="M391 173L391 201.5" stroke="#000" stroke-width="0.9"/>
<path d="M394.2 173L394.2 201.5" stroke="#000" stroke-width="0.9"/>
<rect x="364" y="201.5" width="9.5" height="4.8" stroke="#000" stroke-width="0.9" fill="none"/>
<rect x="390.5" y="201.5" width="9.5" height="4.8" stroke="#000" stroke-width="0.9" fill="none"/>
<path d="M363.5 206.3L400 206.3" stroke="#000" stroke-width="1.3"/>
<path d="M363.5 213L400 213" stroke="#000" stroke-width="1.3"/>
<path d="M363.5 201.5L363.5 288.8" stroke="#000" stroke-width="1.3"/>
<path d="M400 201.5L400 288.8" stroke="#000" stroke-width="1.3"/>
<path d="M373.6 172.5H390.6V180.3L387.9 183.8H376.3L373.6 180.3Z" stroke="#000" stroke-width="1" fill="#fff"/>
<rect x="373.6" y="172.5" width="17" height="8.1" stroke="#000" stroke-width="1" fill="#fff"/>
<rect x="376.5" y="172.5" width="11.2" height="8.1" stroke="none" stroke-width="0" fill="#555"/>
<path d="M377.4 173.1L377.4 180" stroke="#ddd" stroke-width="0.45"/>
<path d="M378.5 173.1L378.5 180" stroke="#ddd" stroke-width="0.45"/>
<path d="M379.6 173.1L379.6 180" stroke="#ddd" stroke-width="0.45"/>
<path d="M384.6 173.1L384.6 180" stroke="#ddd" stroke-width="0.45"/>
<path d="M385.7 173.1L385.7 180" stroke="#ddd" stroke-width="0.45"/>
<path d="M386.8 173.1L386.8 180" stroke="#ddd" stroke-width="0.45"/>
<rect x="380.1" y="172.5" width="4" height="8.1" stroke="none" stroke-width="0" fill="#000"/>
<path d="M376.5 172.5L376.5 180.6" stroke="#000" stroke-width="0.9"/>
<path d="M387.7 172.5L387.7 180.6" stroke="#000" stroke-width="0.9"/>
<path d="M374.9 181.8L389.3 181.8" stroke="#000" stroke-width="1"/>
<rect x="375.6" y="134.5" width="4" height="9" stroke="#000" stroke-width="1" fill="#fff"/>
<rect x="384.6" y="134.5" width="4" height="9" stroke="#000" stroke-width="1" fill="#fff"/>
<rect x="375.6" y="143.5" width="13" height="7" stroke="#000" stroke-width="1.2" fill="#000"/>
<rect x="377.3" y="144.6" width="3.8" height="5" stroke="none" stroke-width="0" fill="#fff"/>
<rect x="383.1" y="144.6" width="3.8" height="5" stroke="none" stroke-width="0" fill="#fff"/>
<rect x="373.6" y="150.5" width="17" height="8.8" stroke="#000" stroke-width="1" fill="#fff"/>
<rect x="376.5" y="150.5" width="11.2" height="8.8" stroke="none" stroke-width="0" fill="#555"/>
<path d="M377.4 151.1L377.4 158.7" stroke="#ddd" stroke-width="0.45"/>
<path d="M378.5 151.1L378.5 158.7" stroke="#ddd" stroke-width="0.45"/>
<path d="M379.6 151.1L379.6 158.7" stroke="#ddd" stroke-width="0.45"/>
<path d="M384.6 151.1L384.6 158.7" stroke="#ddd" stroke-width="0.45"/>
<path d="M385.7 151.1L385.7 158.7" stroke="#ddd" stroke-width="0.45"/>
<path d="M386.8 151.1L386.8 158.7" stroke="#ddd" stroke-width="0.45"/>
<rect x="380.1" y="150.5" width="4" height="8.8" stroke="none" stroke-width="0" fill="#000"/>
<path d="M376.5 150.5L376.5 159.3" stroke="#000" stroke-width="0.9"/>
<path d="M387.7 150.5L387.7 159.3" stroke="#000" stroke-width="0.9"/>
<rect x="375.9" y="159.3" width="12.4" height="6.5" stroke="#000" stroke-width="1.2" fill="#000"/>
<rect x="377.1" y="160.2" width="2.6" height="4.8" stroke="none" stroke-width="0" fill="#fff"/>
<rect x="384.5" y="160.2" width="2.6" height="4.8" stroke="none" stroke-width="0" fill="#fff"/>
<rect x="380.3" y="162.2" width="3.6" height="2.4" stroke="none" stroke-width="0" fill="#777"/>
<rect x="375.9" y="165.8" width="12.4" height="6.7" stroke="#000" stroke-width="1.2" fill="#000"/>
<rect x="377.3" y="166.8" width="3.8" height="4.8" stroke="none" stroke-width="0" fill="#fff"/>
<rect x="383.1" y="166.8" width="3.8" height="4.8" stroke="none" stroke-width="0" fill="#fff"/>
<path d="M370.4 227.2A11.6 11.6 0 0 1 393.6 227.2V248.2A11.6 11.6 0 0 1 370.4 248.2Z" stroke="#000" stroke-width="1.3" fill="#fff"/>
<circle cx="382" cy="227.2" r="10.1" stroke="#000" stroke-width="0.9" fill="#000"/>
<path d="M374.4 231.6A8.8 8.8 0 0 0 389.6 231.6Q382 234.6 374.4 231.6Z" stroke="none" stroke-width="0" fill="#fff"/>
<circle cx="382" cy="227.2" r="10.1" stroke="#000" stroke-width="0.9" fill="none"/>
<rect x="377.4" y="214" width="9.2" height="16.2" stroke="none" stroke-width="0" fill="#fff"/>
<rect x="379.9" y="183.8" width="4.2" height="47.4" stroke="none" stroke-width="0" fill="#707070"/>
<path d="M377.8 183.8L377.8 231.2" stroke="#000" stroke-width="1.4"/>
<path d="M386.2 183.8L386.2 231.2" stroke="#000" stroke-width="1.4"/>
<path d="M377.6 231.2C377.6 236.2 379.2 238.2 379.4 243.7M386.4 231.2C386.4 236.2 384.8 238.2 384.6 243.7" stroke="#000" stroke-width="0.9" fill="none"/>
<path d="M379.8 231.2L381 243.7M384.2 231.2L383 243.7" stroke="#000" stroke-width="0.5" fill="none"/>
<circle cx="382" cy="248.2" r="10.1" stroke="#000" stroke-width="0.9" fill="#000"/>
<path d="M374.4 252.6A8.8 8.8 0 0 0 389.6 252.6Q382 255.6 374.4 252.6Z" stroke="none" stroke-width="0" fill="#fff"/>
<circle cx="382" cy="248.2" r="10.1" stroke="#000" stroke-width="0.9" fill="none"/>
<path d="M378.7 237.7L376.6 252.8L387.4 252.8L385.3 237.7Z" stroke="none" stroke-width="0" fill="#fff"/>
<path d="M380.3 239.2L378.6 252.8L385.4 252.8L383.7 239.2Z" stroke="none" stroke-width="0" fill="#000"/>
<path d="M378.7 237.7L376.6 252.8" stroke="#000" stroke-width="0.5" fill="none"/>
<path d="M385.3 237.7L387.4 252.8" stroke="#000" stroke-width="0.5" fill="none"/>
<rect x="380.4" y="247.8" width="3.2" height="4" stroke="none" stroke-width="0" fill="#fff"/>
<path d="M380.6 248L383.4 251.6M383.4 248L380.6 251.6" stroke="#000" stroke-width="0.55" fill="none"/>
<path d="M379.4 242.8L384.6 242.8" stroke="#fff" stroke-width="0.7"/>
<path d="M381.9 260L381.9 479" stroke="#000" stroke-width="0.5" stroke-dasharray="16 2 2 2"/>
<rect x="362.8" y="299" width="38.2" height="126.6" stroke="#000" stroke-width="0.9" fill="none" rx="5.5"/>
<path d="M366.5 289.3L369.8 297.5L394.4 297.5L397.7 289.3" stroke="#000" stroke-width="0.9" fill="#fff"/>
<ellipse cx="382.1" cy="293" rx="13.3" ry="4.1" stroke="none" stroke-width="0" fill="#000"/>
<path d="M371.6 295Q382.1 298 392.6 295" stroke="#fff" stroke-width="0.45" fill="none"/>
<ellipse cx="382.1" cy="291.7" rx="10.4" ry="2" stroke="#000" stroke-width="0.4" fill="#fff"/>
<ellipse cx="382.1" cy="291.6" rx="5.5" ry="1.25" stroke="none" stroke-width="0" fill="#000"/>
<rect x="367.7" y="292.9" width="1.2" height="1.2" stroke="none" stroke-width="0" fill="#fff"/>
<rect x="395.3" y="292.9" width="1.2" height="1.2" stroke="none" stroke-width="0" fill="#fff"/>
<path d="M366.5 434.4L369.8 426.2L394.4 426.2L397.7 434.4" stroke="#000" stroke-width="0.9" fill="#fff"/>
<ellipse cx="382.1" cy="430.7" rx="13.3" ry="4.1" stroke="none" stroke-width="0" fill="#000"/>
<path d="M371.6 428.7Q382.1 425.7 392.6 428.7" stroke="#fff" stroke-width="0.45" fill="none"/>
<ellipse cx="382.1" cy="432" rx="10.4" ry="2" stroke="#000" stroke-width="0.4" fill="#fff"/>
<ellipse cx="382.1" cy="432.1" rx="5.5" ry="1.25" stroke="none" stroke-width="0" fill="#000"/>
<rect x="367.7" y="429.6" width="1.2" height="1.2" stroke="none" stroke-width="0" fill="#fff"/>
<rect x="395.3" y="429.6" width="1.2" height="1.2" stroke="none" stroke-width="0" fill="#fff"/>
<circle cx="381.9" cy="327.3" r="15.5" stroke="#000" stroke-width="1.3" fill="none"/>
<circle cx="381.9" cy="327.3" r="10.4" stroke="#000" stroke-width="1.3" fill="none"/>
<text transform="translate(382.2 331.4) scale(0.6 1)" font-family="'Liberation Serif', serif" font-size="12.6" text-anchor="middle" fill="#000" stroke="#000" stroke-width="0.25" textLength="15" lengthAdjust="spacing">A1</text>
<circle cx="381.9" cy="397.5" r="15.5" stroke="#000" stroke-width="1.3" fill="none"/>
<circle cx="381.9" cy="397.5" r="10.4" stroke="#000" stroke-width="1.3" fill="none"/>
<text transform="translate(382.2 401.6) scale(0.6 1)" font-family="'Liberation Serif', serif" font-size="12.6" text-anchor="middle" fill="#000" stroke="#000" stroke-width="0.25" textLength="15" lengthAdjust="spacing">B1</text>
<circle cx="381.9" cy="362.2" r="11.9" stroke="#000" stroke-width="2.4" fill="none"/>
<path d="M367.9 362.2L395.9 362.2" stroke="#000" stroke-width="0.5"/>
<rect x="363" y="435" width="37" height="5.5" stroke="#000" stroke-width="0.9" fill="none"/>
<rect x="364" y="441" width="8" height="5" stroke="#000" stroke-width="0.9" fill="none"/>
<rect x="391.5" y="441" width="8" height="5" stroke="#000" stroke-width="0.9" fill="none"/>
<path d="M372 441V446.2H391.5V441" stroke="#000" stroke-width="0.9" fill="none"/>
<path d="M375 446.2V450.4M389 446.2V450.4M374 450.4H390" stroke="#000" stroke-width="0.9" fill="none"/>
<path d="M374 450.4V471.5L376.5 474.4H387.5L390 471.5V450.4" stroke="#000" stroke-width="1.5" fill="none"/>
<circle cx="382" cy="465.8" r="4.3" stroke="#000" stroke-width="1.5" fill="none"/>
<path d="M375.5 468.6A6.9 6.9 0 0 0 388.5 468.6" stroke="#000" stroke-width="0.9" fill="none"/>
<path d="M406.7 201.5V174Q406.7 172.5 408.2 172.5H436.2Q437.7 172.5 437.7 174V201.5" stroke="#000" stroke-width="1.3" fill="none"/>
<path d="M409.7 173L409.7 201.5" stroke="#000" stroke-width="0.9"/>
<path d="M412.9 173L412.9 201.5" stroke="#000" stroke-width="0.9"/>
<path d="M431.2 173L431.2 201.5" stroke="#000" stroke-width="0.9"/>
<path d="M434.4 173L434.4 201.5" stroke="#000" stroke-width="0.9"/>
<rect x="404.2" y="201.5" width="9.5" height="4.8" stroke="#000" stroke-width="0.9" fill="none"/>
<rect x="430.7" y="201.5" width="9.5" height="4.8" stroke="#000" stroke-width="0.9" fill="none"/>
<path d="M403.7 206.3L440.2 206.3" stroke="#000" stroke-width="1.3"/>
<path d="M403.7 213L440.2 213" stroke="#000" stroke-width="1.3"/>
<path d="M403.7 201.5L403.7 288.8" stroke="#000" stroke-width="1.3"/>
<path d="M440.2 201.5L440.2 288.8" stroke="#000" stroke-width="1.3"/>
<path d="M413.8 172.5H430.8V180.3L428.1 183.8H416.5L413.8 180.3Z" stroke="#000" stroke-width="1" fill="#fff"/>
<rect x="413.8" y="172.5" width="17" height="8.1" stroke="#000" stroke-width="1" fill="#fff"/>
<rect x="416.7" y="172.5" width="11.2" height="8.1" stroke="none" stroke-width="0" fill="#555"/>
<path d="M417.6 173.1L417.6 180" stroke="#ddd" stroke-width="0.45"/>
<path d="M418.7 173.1L418.7 180" stroke="#ddd" stroke-width="0.45"/>
<path d="M419.8 173.1L419.8 180" stroke="#ddd" stroke-width="0.45"/>
<path d="M424.8 173.1L424.8 180" stroke="#ddd" stroke-width="0.45"/>
<path d="M425.9 173.1L425.9 180" stroke="#ddd" stroke-width="0.45"/>
<path d="M427 173.1L427 180" stroke="#ddd" stroke-width="0.45"/>
<rect x="420.3" y="172.5" width="4" height="8.1" stroke="none" stroke-width="0" fill="#000"/>
<path d="M416.7 172.5L416.7 180.6" stroke="#000" stroke-width="0.9"/>
<path d="M427.9 172.5L427.9 180.6" stroke="#000" stroke-width="0.9"/>
<path d="M415.1 181.8L429.5 181.8" stroke="#000" stroke-width="1"/>
<rect x="415.8" y="134.5" width="4" height="9" stroke="#000" stroke-width="1" fill="#fff"/>
<rect x="424.8" y="134.5" width="4" height="9" stroke="#000" stroke-width="1" fill="#fff"/>
<rect x="415.8" y="143.5" width="13" height="7" stroke="#000" stroke-width="1.2" fill="#000"/>
<rect x="417.5" y="144.6" width="3.8" height="5" stroke="none" stroke-width="0" fill="#fff"/>
<rect x="423.3" y="144.6" width="3.8" height="5" stroke="none" stroke-width="0" fill="#fff"/>
<rect x="413.8" y="150.5" width="17" height="8.8" stroke="#000" stroke-width="1" fill="#fff"/>
<rect x="416.7" y="150.5" width="11.2" height="8.8" stroke="none" stroke-width="0" fill="#555"/>
<path d="M417.6 151.1L417.6 158.7" stroke="#ddd" stroke-width="0.45"/>
<path d="M418.7 151.1L418.7 158.7" stroke="#ddd" stroke-width="0.45"/>
<path d="M419.8 151.1L419.8 158.7" stroke="#ddd" stroke-width="0.45"/>
<path d="M424.8 151.1L424.8 158.7" stroke="#ddd" stroke-width="0.45"/>
<path d="M425.9 151.1L425.9 158.7" stroke="#ddd" stroke-width="0.45"/>
<path d="M427 151.1L427 158.7" stroke="#ddd" stroke-width="0.45"/>
<rect x="420.3" y="150.5" width="4" height="8.8" stroke="none" stroke-width="0" fill="#000"/>
<path d="M416.7 150.5L416.7 159.3" stroke="#000" stroke-width="0.9"/>
<path d="M427.9 150.5L427.9 159.3" stroke="#000" stroke-width="0.9"/>
<rect x="416.1" y="159.3" width="12.4" height="6.5" stroke="#000" stroke-width="1.2" fill="#000"/>
<rect x="417.3" y="160.2" width="2.6" height="4.8" stroke="none" stroke-width="0" fill="#fff"/>
<rect x="424.7" y="160.2" width="2.6" height="4.8" stroke="none" stroke-width="0" fill="#fff"/>
<rect x="420.5" y="162.2" width="3.6" height="2.4" stroke="none" stroke-width="0" fill="#777"/>
<rect x="416.1" y="165.8" width="12.4" height="6.7" stroke="#000" stroke-width="1.2" fill="#000"/>
<rect x="417.5" y="166.8" width="3.8" height="4.8" stroke="none" stroke-width="0" fill="#fff"/>
<rect x="423.3" y="166.8" width="3.8" height="4.8" stroke="none" stroke-width="0" fill="#fff"/>
<path d="M410.6 227.2A11.6 11.6 0 0 1 433.8 227.2V248.2A11.6 11.6 0 0 1 410.6 248.2Z" stroke="#000" stroke-width="1.3" fill="#fff"/>
<circle cx="422.2" cy="227.2" r="10.1" stroke="#000" stroke-width="0.9" fill="#000"/>
<path d="M414.6 231.6A8.8 8.8 0 0 0 429.8 231.6Q422.2 234.6 414.6 231.6Z" stroke="none" stroke-width="0" fill="#fff"/>
<circle cx="422.2" cy="227.2" r="10.1" stroke="#000" stroke-width="0.9" fill="none"/>
<rect x="417.6" y="214" width="9.2" height="16.2" stroke="none" stroke-width="0" fill="#fff"/>
<path d="M418 183.8L418 231.2" stroke="#000" stroke-width="1.4"/>
<path d="M420.5 183.8L420.5 231.2" stroke="#000" stroke-width="0.7"/>
<path d="M422.2 183.8L422.2 231.2" stroke="#000" stroke-width="0.7"/>
<path d="M423.9 183.8L423.9 231.2" stroke="#000" stroke-width="0.7"/>
<path d="M426.4 183.8L426.4 231.2" stroke="#000" stroke-width="1.4"/>
<path d="M417.8 231.2C417.8 236.2 419.4 238.2 419.6 243.7M426.6 231.2C426.6 236.2 425 238.2 424.8 243.7" stroke="#000" stroke-width="0.9" fill="none"/>
<path d="M420 231.2L421.2 243.7M424.4 231.2L423.2 243.7" stroke="#000" stroke-width="0.5" fill="none"/>
<circle cx="422.2" cy="248.2" r="10.1" stroke="#000" stroke-width="0.9" fill="#000"/>
<path d="M414.6 252.6A8.8 8.8 0 0 0 429.8 252.6Q422.2 255.6 414.6 252.6Z" stroke="none" stroke-width="0" fill="#fff"/>
<circle cx="422.2" cy="248.2" r="10.1" stroke="#000" stroke-width="0.9" fill="none"/>
<path d="M418.9 237.7L416.8 252.8L427.6 252.8L425.5 237.7Z" stroke="none" stroke-width="0" fill="#fff"/>
<path d="M420.5 239.2L418.8 252.8L425.6 252.8L423.9 239.2Z" stroke="none" stroke-width="0" fill="#000"/>
<path d="M418.9 237.7L416.8 252.8" stroke="#000" stroke-width="0.5" fill="none"/>
<path d="M425.5 237.7L427.6 252.8" stroke="#000" stroke-width="0.5" fill="none"/>
<rect x="420.6" y="247.8" width="3.2" height="4" stroke="none" stroke-width="0" fill="#fff"/>
<path d="M420.8 248L423.6 251.6M423.6 248L420.8 251.6" stroke="#000" stroke-width="0.55" fill="none"/>
<path d="M419.6 242.8L424.8 242.8" stroke="#fff" stroke-width="0.7"/>
<path d="M422.1 260L422.1 479" stroke="#000" stroke-width="0.5" stroke-dasharray="16 2 2 2"/>
<rect x="403" y="299" width="38.2" height="126.6" stroke="#000" stroke-width="0.9" fill="none" rx="5.5"/>
<path d="M406.7 289.3L410 297.5L434.6 297.5L437.9 289.3" stroke="#000" stroke-width="0.9" fill="#fff"/>
<ellipse cx="422.3" cy="293" rx="13.3" ry="4.1" stroke="none" stroke-width="0" fill="#000"/>
<path d="M411.8 295Q422.3 298 432.8 295" stroke="#fff" stroke-width="0.45" fill="none"/>
<ellipse cx="422.3" cy="291.7" rx="10.4" ry="2" stroke="#000" stroke-width="0.4" fill="#fff"/>
<ellipse cx="422.3" cy="291.6" rx="5.5" ry="1.25" stroke="none" stroke-width="0" fill="#000"/>
<rect x="407.9" y="292.9" width="1.2" height="1.2" stroke="none" stroke-width="0" fill="#fff"/>
<rect x="435.5" y="292.9" width="1.2" height="1.2" stroke="none" stroke-width="0" fill="#fff"/>
<path d="M406.7 434.4L410 426.2L434.6 426.2L437.9 434.4" stroke="#000" stroke-width="0.9" fill="#fff"/>
<ellipse cx="422.3" cy="430.7" rx="13.3" ry="4.1" stroke="none" stroke-width="0" fill="#000"/>
<path d="M411.8 428.7Q422.3 425.7 432.8 428.7" stroke="#fff" stroke-width="0.45" fill="none"/>
<ellipse cx="422.3" cy="432" rx="10.4" ry="2" stroke="#000" stroke-width="0.4" fill="#fff"/>
<ellipse cx="422.3" cy="432.1" rx="5.5" ry="1.25" stroke="none" stroke-width="0" fill="#000"/>
<rect x="407.9" y="429.6" width="1.2" height="1.2" stroke="none" stroke-width="0" fill="#fff"/>
<rect x="435.5" y="429.6" width="1.2" height="1.2" stroke="none" stroke-width="0" fill="#fff"/>
<circle cx="422.1" cy="327.3" r="15.5" stroke="#000" stroke-width="1.3" fill="none"/>
<circle cx="422.1" cy="327.3" r="10.4" stroke="#000" stroke-width="1.3" fill="none"/>
<text transform="translate(422.4 331.4) scale(0.6 1)" font-family="'Liberation Serif', serif" font-size="12.6" text-anchor="middle" fill="#000" stroke="#000" stroke-width="0.25" textLength="15" lengthAdjust="spacing">A2</text>
<circle cx="422.1" cy="397.5" r="15.5" stroke="#000" stroke-width="1.3" fill="none"/>
<circle cx="422.1" cy="397.5" r="10.4" stroke="#000" stroke-width="1.3" fill="none"/>
<text transform="translate(422.4 401.6) scale(0.6 1)" font-family="'Liberation Serif', serif" font-size="12.6" text-anchor="middle" fill="#000" stroke="#000" stroke-width="0.25" textLength="15" lengthAdjust="spacing">B2</text>
<circle cx="422.1" cy="362.2" r="11.9" stroke="#000" stroke-width="2.4" fill="none"/>
<path d="M408.1 362.2L436.1 362.2" stroke="#000" stroke-width="0.5"/>
<rect x="403.2" y="435" width="37" height="5.5" stroke="#000" stroke-width="0.9" fill="none"/>
<rect x="404.2" y="441" width="8" height="5" stroke="#000" stroke-width="0.9" fill="none"/>
<rect x="431.7" y="441" width="8" height="5" stroke="#000" stroke-width="0.9" fill="none"/>
<path d="M412.2 441V446.2H431.7V441" stroke="#000" stroke-width="0.9" fill="none"/>
<path d="M415.2 446.2V450.4M429.2 446.2V450.4M414.2 450.4H430.2" stroke="#000" stroke-width="0.9" fill="none"/>
<path d="M414.2 450.4V471.5L416.7 474.4H427.7L430.2 471.5V450.4" stroke="#000" stroke-width="1.5" fill="none"/>
<circle cx="422.2" cy="465.8" r="4.3" stroke="#000" stroke-width="1.5" fill="none"/>
<path d="M415.7 468.6A6.9 6.9 0 0 0 428.7 468.6" stroke="#000" stroke-width="0.9" fill="none"/>
<path d="M446.9 201.5V174Q446.9 172.5 448.4 172.5H476.4Q477.9 172.5 477.9 174V201.5" stroke="#000" stroke-width="1.3" fill="none"/>
<path d="M449.9 173L449.9 201.5" stroke="#000" stroke-width="0.9"/>
<path d="M453.1 173L453.1 201.5" stroke="#000" stroke-width="0.9"/>
<path d="M471.4 173L471.4 201.5" stroke="#000" stroke-width="0.9"/>
<path d="M474.6 173L474.6 201.5" stroke="#000" stroke-width="0.9"/>
<rect x="444.4" y="201.5" width="9.5" height="4.8" stroke="#000" stroke-width="0.9" fill="none"/>
<rect x="470.9" y="201.5" width="9.5" height="4.8" stroke="#000" stroke-width="0.9" fill="none"/>
<path d="M443.9 206.3L480.4 206.3" stroke="#000" stroke-width="1.3"/>
<path d="M443.9 213L480.4 213" stroke="#000" stroke-width="1.3"/>
<path d="M443.9 201.5L443.9 288.8" stroke="#000" stroke-width="1.3"/>
<path d="M480.4 201.5L480.4 288.8" stroke="#000" stroke-width="1.3"/>
<path d="M454 172.5H471V180.3L468.3 183.8H456.7L454 180.3Z" stroke="#000" stroke-width="1" fill="#fff"/>
<rect x="454" y="172.5" width="17" height="8.1" stroke="#000" stroke-width="1" fill="#fff"/>
<rect x="456.9" y="172.5" width="11.2" height="8.1" stroke="none" stroke-width="0" fill="#555"/>
<path d="M457.8 173.1L457.8 180" stroke="#ddd" stroke-width="0.45"/>
<path d="M458.9 173.1L458.9 180" stroke="#ddd" stroke-width="0.45"/>
<path d="M460 173.1L460 180" stroke="#ddd" stroke-width="0.45"/>
<path d="M465 173.1L465 180" stroke="#ddd" stroke-width="0.45"/>
<path d="M466.1 173.1L466.1 180" stroke="#ddd" stroke-width="0.45"/>
<path d="M467.2 173.1L467.2 180" stroke="#ddd" stroke-width="0.45"/>
<rect x="460.5" y="172.5" width="4" height="8.1" stroke="none" stroke-width="0" fill="#000"/>
<path d="M456.9 172.5L456.9 180.6" stroke="#000" stroke-width="0.9"/>
<path d="M468.1 172.5L468.1 180.6" stroke="#000" stroke-width="0.9"/>
<path d="M455.3 181.8L469.7 181.8" stroke="#000" stroke-width="1"/>
<rect x="456" y="134.5" width="4" height="9" stroke="#000" stroke-width="1" fill="#fff"/>
<rect x="465" y="134.5" width="4" height="9" stroke="#000" stroke-width="1" fill="#fff"/>
<rect x="456" y="143.5" width="13" height="7" stroke="#000" stroke-width="1.2" fill="#000"/>
<rect x="457.7" y="144.6" width="3.8" height="5" stroke="none" stroke-width="0" fill="#fff"/>
<rect x="463.5" y="144.6" width="3.8" height="5" stroke="none" stroke-width="0" fill="#fff"/>
<rect x="454" y="150.5" width="17" height="8.8" stroke="#000" stroke-width="1" fill="#fff"/>
<rect x="456.9" y="150.5" width="11.2" height="8.8" stroke="none" stroke-width="0" fill="#555"/>
<path d="M457.8 151.1L457.8 158.7" stroke="#ddd" stroke-width="0.45"/>
<path d="M458.9 151.1L458.9 158.7" stroke="#ddd" stroke-width="0.45"/>
<path d="M460 151.1L460 158.7" stroke="#ddd" stroke-width="0.45"/>
<path d="M465 151.1L465 158.7" stroke="#ddd" stroke-width="0.45"/>
<path d="M466.1 151.1L466.1 158.7" stroke="#ddd" stroke-width="0.45"/>
<path d="M467.2 151.1L467.2 158.7" stroke="#ddd" stroke-width="0.45"/>
<rect x="460.5" y="150.5" width="4" height="8.8" stroke="none" stroke-width="0" fill="#000"/>
<path d="M456.9 150.5L456.9 159.3" stroke="#000" stroke-width="0.9"/>
<path d="M468.1 150.5L468.1 159.3" stroke="#000" stroke-width="0.9"/>
<path d="M454 159.3L457 162.5H468L471 159.3" stroke="#000" stroke-width="1" fill="#fff"/>
<path d="M450.8 227.2A11.6 11.6 0 0 1 474 227.2V248.2A11.6 11.6 0 0 1 450.8 248.2Z" stroke="#000" stroke-width="1.3" fill="#fff"/>
<circle cx="462.4" cy="227.2" r="10.1" stroke="#000" stroke-width="0.9" fill="#000"/>
<path d="M454.8 231.6A8.8 8.8 0 0 0 470 231.6Q462.4 234.6 454.8 231.6Z" stroke="none" stroke-width="0" fill="#fff"/>
<circle cx="462.4" cy="227.2" r="10.1" stroke="#000" stroke-width="0.9" fill="none"/>
<rect x="457" y="162.5" width="10.8" height="49.5" stroke="none" stroke-width="0" fill="#fff"/>
<path d="M457.2 162.5L457.2 208" stroke="#000" stroke-width="1.3"/>
<path d="M460 162.5L460 208" stroke="#000" stroke-width="0.9"/>
<path d="M462.4 162.5L462.4 208" stroke="#000" stroke-width="0.6"/>
<path d="M464.8 162.5L464.8 208" stroke="#000" stroke-width="0.9"/>
<path d="M467.6 162.5L467.6 208" stroke="#000" stroke-width="1.3"/>
<path d="M457.2 208C457.2 213 459 214 459.4 222.2M467.6 208C467.6 213 465.8 214 465.4 222.2" stroke="#000" stroke-width="0.9" fill="none"/>
<rect x="459.8" y="216" width="5.2" height="7.2" stroke="none" stroke-width="0" fill="#fff"/>
<path d="M459.1 216.7L457 231.8L467.8 231.8L465.7 216.7Z" stroke="none" stroke-width="0" fill="#fff"/>
<path d="M460.7 218.2L459 231.8L465.8 231.8L464.1 218.2Z" stroke="none" stroke-width="0" fill="#000"/>
<path d="M459.1 216.7L457 231.8" stroke="#000" stroke-width="0.5" fill="none"/>
<path d="M465.7 216.7L467.8 231.8" stroke="#000" stroke-width="0.5" fill="none"/>
<rect x="460.8" y="226.8" width="3.2" height="4" stroke="none" stroke-width="0" fill="#fff"/>
<path d="M461 227L463.8 230.6M463.8 227L461 230.6" stroke="#000" stroke-width="0.55" fill="none"/>
<path d="M459.8 221.8L465 221.8" stroke="#fff" stroke-width="0.7"/>
<circle cx="462.4" cy="248.2" r="10.1" stroke="#000" stroke-width="0.9" fill="#000"/>
<path d="M454.8 252.6A8.8 8.8 0 0 0 470 252.6Q462.4 255.6 454.8 252.6Z" stroke="none" stroke-width="0" fill="#fff"/>
<circle cx="462.4" cy="248.2" r="10.1" stroke="#000" stroke-width="0.9" fill="none"/>
<path d="M459.1 237.7L457 252.8L467.8 252.8L465.7 237.7Z" stroke="none" stroke-width="0" fill="#fff"/>
<path d="M460.7 239.2L459 252.8L465.8 252.8L464.1 239.2Z" stroke="none" stroke-width="0" fill="#000"/>
<path d="M459.1 237.7L457 252.8" stroke="#000" stroke-width="0.5" fill="none"/>
<path d="M465.7 237.7L467.8 252.8" stroke="#000" stroke-width="0.5" fill="none"/>
<rect x="460.8" y="247.8" width="3.2" height="4" stroke="none" stroke-width="0" fill="#fff"/>
<path d="M461 248L463.8 251.6M463.8 248L461 251.6" stroke="#000" stroke-width="0.55" fill="none"/>
<path d="M459.8 242.8L465 242.8" stroke="#fff" stroke-width="0.7"/>
<path d="M462.3 260L462.3 479" stroke="#000" stroke-width="0.5" stroke-dasharray="16 2 2 2"/>
<rect x="443.2" y="299" width="38.2" height="126.6" stroke="#000" stroke-width="0.9" fill="none" rx="5.5"/>
<path d="M446.9 289.3L450.2 297.5L474.8 297.5L478.1 289.3" stroke="#000" stroke-width="0.9" fill="#fff"/>
<ellipse cx="462.5" cy="293" rx="13.3" ry="4.1" stroke="none" stroke-width="0" fill="#000"/>
<path d="M452 295Q462.5 298 473 295" stroke="#fff" stroke-width="0.45" fill="none"/>
<ellipse cx="462.5" cy="291.7" rx="10.4" ry="2" stroke="#000" stroke-width="0.4" fill="#fff"/>
<ellipse cx="462.5" cy="291.6" rx="5.5" ry="1.25" stroke="none" stroke-width="0" fill="#000"/>
<rect x="448.1" y="292.9" width="1.2" height="1.2" stroke="none" stroke-width="0" fill="#fff"/>
<rect x="475.7" y="292.9" width="1.2" height="1.2" stroke="none" stroke-width="0" fill="#fff"/>
<path d="M446.9 434.4L450.2 426.2L474.8 426.2L478.1 434.4" stroke="#000" stroke-width="0.9" fill="#fff"/>
<ellipse cx="462.5" cy="430.7" rx="13.3" ry="4.1" stroke="none" stroke-width="0" fill="#000"/>
<path d="M452 428.7Q462.5 425.7 473 428.7" stroke="#fff" stroke-width="0.45" fill="none"/>
<ellipse cx="462.5" cy="432" rx="10.4" ry="2" stroke="#000" stroke-width="0.4" fill="#fff"/>
<ellipse cx="462.5" cy="432.1" rx="5.5" ry="1.25" stroke="none" stroke-width="0" fill="#000"/>
<rect x="448.1" y="429.6" width="1.2" height="1.2" stroke="none" stroke-width="0" fill="#fff"/>
<rect x="475.7" y="429.6" width="1.2" height="1.2" stroke="none" stroke-width="0" fill="#fff"/>
<circle cx="462.3" cy="327.3" r="15.5" stroke="#000" stroke-width="1.3" fill="none"/>
<circle cx="462.3" cy="327.3" r="10.4" stroke="#000" stroke-width="1.3" fill="none"/>
<text transform="translate(462.6 331.4) scale(0.6 1)" font-family="'Liberation Serif', serif" font-size="12.6" text-anchor="middle" fill="#000" stroke="#000" stroke-width="0.25" textLength="15" lengthAdjust="spacing">A3</text>
<circle cx="462.3" cy="397.5" r="15.5" stroke="#000" stroke-width="1.3" fill="none"/>
<circle cx="462.3" cy="397.5" r="10.4" stroke="#000" stroke-width="1.3" fill="none"/>
<text transform="translate(462.6 401.6) scale(0.6 1)" font-family="'Liberation Serif', serif" font-size="12.6" text-anchor="middle" fill="#000" stroke="#000" stroke-width="0.25" textLength="15" lengthAdjust="spacing">B3</text>
<circle cx="462.3" cy="362.2" r="11.9" stroke="#000" stroke-width="2.4" fill="none"/>
<path d="M448.3 362.2L476.3 362.2" stroke="#000" stroke-width="0.5"/>
<rect x="443.4" y="435" width="37" height="5.5" stroke="#000" stroke-width="0.9" fill="none"/>
<rect x="444.4" y="441" width="8" height="5" stroke="#000" stroke-width="0.9" fill="none"/>
<rect x="471.9" y="441" width="8" height="5" stroke="#000" stroke-width="0.9" fill="none"/>
<path d="M452.4 441V446.2H471.9V441" stroke="#000" stroke-width="0.9" fill="none"/>
<path d="M455.4 446.2V450.4M469.4 446.2V450.4M454.4 450.4H470.4" stroke="#000" stroke-width="0.9" fill="none"/>
<path d="M454.4 450.4V471.5L456.9 474.4H467.9L470.4 471.5V450.4" stroke="#000" stroke-width="1.5" fill="none"/>
<circle cx="462.4" cy="465.8" r="4.3" stroke="#000" stroke-width="1.5" fill="none"/>
<path d="M455.9 468.6A6.9 6.9 0 0 0 468.9 468.6" stroke="#000" stroke-width="0.9" fill="none"/>
<path d="M487.1 201.5V174Q487.1 172.5 488.6 172.5H516.6Q518.1 172.5 518.1 174V201.5" stroke="#000" stroke-width="1.3" fill="none"/>
<path d="M490.1 173L490.1 201.5" stroke="#000" stroke-width="0.9"/>
<path d="M493.3 173L493.3 201.5" stroke="#000" stroke-width="0.9"/>
<path d="M511.6 173L511.6 201.5" stroke="#000" stroke-width="0.9"/>
<path d="M514.8 173L514.8 201.5" stroke="#000" stroke-width="0.9"/>
<rect x="484.6" y="201.5" width="9.5" height="4.8" stroke="#000" stroke-width="0.9" fill="none"/>
<rect x="511.1" y="201.5" width="9.5" height="4.8" stroke="#000" stroke-width="0.9" fill="none"/>
<path d="M484.1 206.3L520.6 206.3" stroke="#000" stroke-width="1.3"/>
<path d="M484.1 213L520.6 213" stroke="#000" stroke-width="1.3"/>
<path d="M484.1 201.5L484.1 288.8" stroke="#000" stroke-width="1.3"/>
<path d="M520.6 201.5L520.6 288.8" stroke="#000" stroke-width="1.3"/>
<path d="M494.2 172.5H511.2V180.3L508.5 183.8H496.9L494.2 180.3Z" stroke="#000" stroke-width="1" fill="#fff"/>
<rect x="494.2" y="172.5" width="17" height="8.1" stroke="#000" stroke-width="1" fill="#fff"/>
<rect x="497.1" y="172.5" width="11.2" height="8.1" stroke="none" stroke-width="0" fill="#555"/>
<path d="M498 173.1L498 180" stroke="#ddd" stroke-width="0.45"/>
<path d="M499.1 173.1L499.1 180" stroke="#ddd" stroke-width="0.45"/>
<path d="M500.2 173.1L500.2 180" stroke="#ddd" stroke-width="0.45"/>
<path d="M505.2 173.1L505.2 180" stroke="#ddd" stroke-width="0.45"/>
<path d="M506.3 173.1L506.3 180" stroke="#ddd" stroke-width="0.45"/>
<path d="M507.4 173.1L507.4 180" stroke="#ddd" stroke-width="0.45"/>
<rect x="500.7" y="172.5" width="4" height="8.1" stroke="none" stroke-width="0" fill="#000"/>
<path d="M497.1 172.5L497.1 180.6" stroke="#000" stroke-width="0.9"/>
<path d="M508.3 172.5L508.3 180.6" stroke="#000" stroke-width="0.9"/>
<path d="M495.5 181.8L509.9 181.8" stroke="#000" stroke-width="1"/>
<rect x="496.2" y="134.5" width="4" height="9" stroke="#000" stroke-width="1" fill="#fff"/>
<rect x="505.2" y="134.5" width="4" height="9" stroke="#000" stroke-width="1" fill="#fff"/>
<rect x="496.2" y="143.5" width="13" height="7" stroke="#000" stroke-width="1.2" fill="#000"/>
<rect x="497.9" y="144.6" width="3.8" height="5" stroke="none" stroke-width="0" fill="#fff"/>
<rect x="503.7" y="144.6" width="3.8" height="5" stroke="none" stroke-width="0" fill="#fff"/>
<rect x="494.2" y="150.5" width="17" height="8.8" stroke="#000" stroke-width="1" fill="#fff"/>
<rect x="497.1" y="150.5" width="11.2" height="8.8" stroke="none" stroke-width="0" fill="#555"/>
<path d="M498 151.1L498 158.7" stroke="#ddd" stroke-width="0.45"/>
<path d="M499.1 151.1L499.1 158.7" stroke="#ddd" stroke-width="0.45"/>
<path d="M500.2 151.1L500.2 158.7" stroke="#ddd" stroke-width="0.45"/>
<path d="M505.2 151.1L505.2 158.7" stroke="#ddd" stroke-width="0.45"/>
<path d="M506.3 151.1L506.3 158.7" stroke="#ddd" stroke-width="0.45"/>
<path d="M507.4 151.1L507.4 158.7" stroke="#ddd" stroke-width="0.45"/>
<rect x="500.7" y="150.5" width="4" height="8.8" stroke="none" stroke-width="0" fill="#000"/>
<path d="M497.1 150.5L497.1 159.3" stroke="#000" stroke-width="0.9"/>
<path d="M508.3 150.5L508.3 159.3" stroke="#000" stroke-width="0.9"/>
<rect x="496.5" y="159.3" width="12.4" height="6.5" stroke="#000" stroke-width="1.2" fill="#000"/>
<rect x="497.7" y="160.2" width="2.6" height="4.8" stroke="none" stroke-width="0" fill="#fff"/>
<rect x="505.1" y="160.2" width="2.6" height="4.8" stroke="none" stroke-width="0" fill="#fff"/>
<rect x="500.9" y="162.2" width="3.6" height="2.4" stroke="none" stroke-width="0" fill="#777"/>
<rect x="496.5" y="165.8" width="12.4" height="6.7" stroke="#000" stroke-width="1.2" fill="#000"/>
<rect x="497.9" y="166.8" width="3.8" height="4.8" stroke="none" stroke-width="0" fill="#fff"/>
<rect x="503.7" y="166.8" width="3.8" height="4.8" stroke="none" stroke-width="0" fill="#fff"/>
<path d="M491 227.2A11.6 11.6 0 0 1 514.2 227.2V248.2A11.6 11.6 0 0 1 491 248.2Z" stroke="#000" stroke-width="1.3" fill="#fff"/>
<circle cx="502.6" cy="227.2" r="10.1" stroke="#000" stroke-width="0.9" fill="#000"/>
<path d="M495 231.6A8.8 8.8 0 0 0 510.2 231.6Q502.6 234.6 495 231.6Z" stroke="none" stroke-width="0" fill="#fff"/>
<circle cx="502.6" cy="227.2" r="10.1" stroke="#000" stroke-width="0.9" fill="none"/>
<rect x="498" y="214" width="9.2" height="16.2" stroke="none" stroke-width="0" fill="#fff"/>
<path d="M498.4 183.8L498.4 231.2" stroke="#000" stroke-width="1.4"/>
<path d="M500.9 183.8L500.9 231.2" stroke="#000" stroke-width="0.7"/>
<path d="M502.6 183.8L502.6 231.2" stroke="#000" stroke-width="0.7"/>
<path d="M504.3 183.8L504.3 231.2" stroke="#000" stroke-width="0.7"/>
<path d="M506.8 183.8L506.8 231.2" stroke="#000" stroke-width="1.4"/>
<path d="M498.2 231.2C498.2 236.2 499.8 238.2 500 243.7M507 231.2C507 236.2 505.4 238.2 505.2 243.7" stroke="#000" stroke-width="0.9" fill="none"/>
<path d="M500.4 231.2L501.6 243.7M504.8 231.2L503.6 243.7" stroke="#000" stroke-width="0.5" fill="none"/>
<circle cx="502.6" cy="248.2" r="10.1" stroke="#000" stroke-width="0.9" fill="#000"/>
<path d="M495 252.6A8.8 8.8 0 0 0 510.2 252.6Q502.6 255.6 495 252.6Z" stroke="none" stroke-width="0" fill="#fff"/>
<circle cx="502.6" cy="248.2" r="10.1" stroke="#000" stroke-width="0.9" fill="none"/>
<path d="M499.3 237.7L497.2 252.8L508 252.8L505.9 237.7Z" stroke="none" stroke-width="0" fill="#fff"/>
<path d="M500.9 239.2L499.2 252.8L506 252.8L504.3 239.2Z" stroke="none" stroke-width="0" fill="#000"/>
<path d="M499.3 237.7L497.2 252.8" stroke="#000" stroke-width="0.5" fill="none"/>
<path d="M505.9 237.7L508 252.8" stroke="#000" stroke-width="0.5" fill="none"/>
<rect x="501" y="247.8" width="3.2" height="4" stroke="none" stroke-width="0" fill="#fff"/>
<path d="M501.2 248L504 251.6M504 248L501.2 251.6" stroke="#000" stroke-width="0.55" fill="none"/>
<path d="M500 242.8L505.2 242.8" stroke="#fff" stroke-width="0.7"/>
<path d="M502.5 260L502.5 479" stroke="#000" stroke-width="0.5" stroke-dasharray="16 2 2 2"/>
<rect x="483.4" y="299" width="38.2" height="126.6" stroke="#000" stroke-width="0.9" fill="none" rx="5.5"/>
<path d="M487.1 289.3L490.4 297.5L515 297.5L518.3 289.3" stroke="#000" stroke-width="0.9" fill="#fff"/>
<ellipse cx="502.7" cy="293" rx="13.3" ry="4.1" stroke="none" stroke-width="0" fill="#000"/>
<path d="M492.2 295Q502.7 298 513.2 295" stroke="#fff" stroke-width="0.45" fill="none"/>
<ellipse cx="502.7" cy="291.7" rx="10.4" ry="2" stroke="#000" stroke-width="0.4" fill="#fff"/>
<ellipse cx="502.7" cy="291.6" rx="5.5" ry="1.25" stroke="none" stroke-width="0" fill="#000"/>
<rect x="488.3" y="292.9" width="1.2" height="1.2" stroke="none" stroke-width="0" fill="#fff"/>
<rect x="515.9" y="292.9" width="1.2" height="1.2" stroke="none" stroke-width="0" fill="#fff"/>
<path d="M487.1 434.4L490.4 426.2L515 426.2L518.3 434.4" stroke="#000" stroke-width="0.9" fill="#fff"/>
<ellipse cx="502.7" cy="430.7" rx="13.3" ry="4.1" stroke="none" stroke-width="0" fill="#000"/>
<path d="M492.2 428.7Q502.7 425.7 513.2 428.7" stroke="#fff" stroke-width="0.45" fill="none"/>
<ellipse cx="502.7" cy="432" rx="10.4" ry="2" stroke="#000" stroke-width="0.4" fill="#fff"/>
<ellipse cx="502.7" cy="432.1" rx="5.5" ry="1.25" stroke="none" stroke-width="0" fill="#000"/>
<rect x="488.3" y="429.6" width="1.2" height="1.2" stroke="none" stroke-width="0" fill="#fff"/>
<rect x="515.9" y="429.6" width="1.2" height="1.2" stroke="none" stroke-width="0" fill="#fff"/>
<circle cx="502.5" cy="327.3" r="15.5" stroke="#000" stroke-width="1.3" fill="none"/>
<circle cx="502.5" cy="327.3" r="10.4" stroke="#000" stroke-width="1.3" fill="none"/>
<text transform="translate(502.8 331.4) scale(0.6 1)" font-family="'Liberation Serif', serif" font-size="12.6" text-anchor="middle" fill="#000" stroke="#000" stroke-width="0.25" textLength="15" lengthAdjust="spacing">A4</text>
<circle cx="502.5" cy="397.5" r="15.5" stroke="#000" stroke-width="1.3" fill="none"/>
<circle cx="502.5" cy="397.5" r="10.4" stroke="#000" stroke-width="1.3" fill="none"/>
<text transform="translate(502.8 401.6) scale(0.6 1)" font-family="'Liberation Serif', serif" font-size="12.6" text-anchor="middle" fill="#000" stroke="#000" stroke-width="0.25" textLength="15" lengthAdjust="spacing">B4</text>
<circle cx="502.5" cy="362.2" r="11.9" stroke="#000" stroke-width="2.4" fill="none"/>
<path d="M488.5 362.2L516.5 362.2" stroke="#000" stroke-width="0.5"/>
<rect x="483.6" y="435" width="37" height="5.5" stroke="#000" stroke-width="0.9" fill="none"/>
<rect x="484.6" y="441" width="8" height="5" stroke="#000" stroke-width="0.9" fill="none"/>
<rect x="512.1" y="441" width="8" height="5" stroke="#000" stroke-width="0.9" fill="none"/>
<path d="M492.6 441V446.2H512.1V441" stroke="#000" stroke-width="0.9" fill="none"/>
<path d="M495.6 446.2V450.4M509.6 446.2V450.4M494.6 450.4H510.6" stroke="#000" stroke-width="0.9" fill="none"/>
<path d="M494.6 450.4V471.5L497.1 474.4H508.1L510.6 471.5V450.4" stroke="#000" stroke-width="1.5" fill="none"/>
<circle cx="502.6" cy="465.8" r="4.3" stroke="#000" stroke-width="1.5" fill="none"/>
<path d="M496.1 468.6A6.9 6.9 0 0 0 509.1 468.6" stroke="#000" stroke-width="0.9" fill="none"/>
<path d="M361.8 288.9L522.6 288.9" stroke="#000" stroke-width="1.6"/>
<path d="M361.8 434.8L522.6 434.8" stroke="#000" stroke-width="1.6"/>
<path d="M361.8 288.9L361.8 434.8" stroke="#000" stroke-width="1.5"/>
<path d="M402 288.9L402 434.8" stroke="#000" stroke-width="1.5"/>
<path d="M442.2 288.9L442.2 434.8" stroke="#000" stroke-width="1.5"/>
<path d="M482.4 288.9L482.4 434.8" stroke="#000" stroke-width="1.5"/>
<path d="M522.6 288.9L522.6 434.8" stroke="#000" stroke-width="1.5"/>
<path d="M361.8 342.5Q371 362 361.8 381.5" stroke="#000" stroke-width="0.9" fill="none"/>
<path d="M361.8 342.5Q366.8 362 361.8 381.5" stroke="#000" stroke-width="0.8" fill="none"/>
<path d="M402 342.5Q392.8 362 402 381.5" stroke="#000" stroke-width="0.9" fill="none"/>
<path d="M402 342.5Q411.2 362 402 381.5" stroke="#000" stroke-width="0.9" fill="none"/>
<path d="M402 342.5Q397 362 402 381.5" stroke="#000" stroke-width="0.8" fill="none"/>
<path d="M402 342.5Q407 362 402 381.5" stroke="#000" stroke-width="0.8" fill="none"/>
<path d="M442.2 342.5Q433 362 442.2 381.5" stroke="#000" stroke-width="0.9" fill="none"/>
<path d="M442.2 342.5Q451.4 362 442.2 381.5" stroke="#000" stroke-width="0.9" fill="none"/>
<path d="M442.2 342.5Q437.2 362 442.2 381.5" stroke="#000" stroke-width="0.8" fill="none"/>
<path d="M442.2 342.5Q447.2 362 442.2 381.5" stroke="#000" stroke-width="0.8" fill="none"/>
<path d="M482.4 342.5Q473.2 362 482.4 381.5" stroke="#000" stroke-width="0.9" fill="none"/>
<path d="M482.4 342.5Q491.6 362 482.4 381.5" stroke="#000" stroke-width="0.9" fill="none"/>
<path d="M482.4 342.5Q477.4 362 482.4 381.5" stroke="#000" stroke-width="0.8" fill="none"/>
<path d="M482.4 342.5Q487.4 362 482.4 381.5" stroke="#000" stroke-width="0.8" fill="none"/>
<path d="M522.6 342.5Q513.4 362 522.6 381.5" stroke="#000" stroke-width="0.9" fill="none"/>
<path d="M522.6 342.5Q517.6 362 522.6 381.5" stroke="#000" stroke-width="0.8" fill="none"/>
<path d="M522.6 289.3H545Q550 289.3 550 294V322.5C550 327 560.5 333 563.3 337.5" stroke="#000" stroke-width="1.3" fill="none"/>
<path d="M546.2 292V322.5C546.2 327 553 331 557 337" stroke="#000" stroke-width="0.7" fill="none"/>
<path d="M545 292.3H524" stroke="#000" stroke-width="0.7" fill="none"/>
<path d="M550 308.7H560.2Q564.3 308.7 564.3 312.8V323.6Q564.3 327.8 560.2 327.8H553" stroke="#000" stroke-width="0.9" fill="none"/>
<circle cx="554.8" cy="321" r="4" stroke="#555" stroke-width="0.7" fill="none"/>
<path d="M549.5 321L560 321" stroke="#555" stroke-width="0.4"/>
<path d="M563.4 337.5V372C563.4 381 560 387 552 387H533C527.5 387 524.8 383 524.8 378V344C524.8 340 527.5 337.2 531.5 337.2H563.4" stroke="#000" stroke-width="1.3" fill="none"/>
<path d="M563.4 337.5L563.4 372" stroke="#000" stroke-width="1.3"/>
<circle cx="543.3" cy="362.3" r="18.4" stroke="#000" stroke-width="1.3" fill="none"/>
<circle cx="543.3" cy="362.3" r="16.9" stroke="#000" stroke-width="0.9" fill="none"/>
<path d="M552.3 362.3L547.8 370.09L538.8 370.09L534.3 362.3L538.8 354.51L547.8 354.51Z" stroke="#000" stroke-width="1.3" fill="none"/>
<text transform="translate(543.5 366.6) scale(0.6 1)" font-family="'Liberation Serif', serif" font-size="13" text-anchor="middle" fill="#000" stroke="#000" stroke-width="0.35" textLength="13.33" lengthAdjust="spacing">T1</text>
<path d="M522 362.3L566 362.3" stroke="#000" stroke-width="0.5" stroke-dasharray="9 1.5 2 1.5"/>
<path d="M543.3 341L543.3 384" stroke="#000" stroke-width="0.5" stroke-dasharray="9 1.5 2 1.5"/>
<path d="M562 388.5C558 392 550 396 550 401V428Q550 433.6 545 433.6H522.6" stroke="#000" stroke-width="1.3" fill="none"/>
<path d="M557 389.5C552 393 546.2 397 546.2 401V432" stroke="#000" stroke-width="0.7" fill="none"/>
<path d="M553 396H560.2Q564.3 396 564.3 400.1V412.1Q564.3 416.3 560.2 416.3H550" stroke="#000" stroke-width="0.9" fill="none"/>
<circle cx="554.8" cy="404.7" r="4" stroke="#555" stroke-width="0.7" fill="none"/>
<path d="M549.5 404.7L560 404.7" stroke="#555" stroke-width="0.4"/>
<path d="M554.8 397L554.8 413" stroke="#555" stroke-width="0.4"/>
<path d="M565.8 323.7L565.8 401.3" stroke="#000" stroke-width="0.9"/>
<rect x="565.8" y="323.7" width="6.4" height="12.3" stroke="#000" stroke-width="0.9" fill="none"/>
<path d="M565.8 329.85L572.2 329.85" stroke="#000" stroke-width="0.7"/>
<rect x="572.2" y="326.1" width="7.8" height="7.3" stroke="#000" stroke-width="0.9" fill="none"/>
<rect x="565.8" y="340.5" width="6.4" height="12.8" stroke="#000" stroke-width="0.9" fill="none"/>
<path d="M565.8 346.9L572.2 346.9" stroke="#000" stroke-width="0.7"/>
<rect x="572.2" y="342.9" width="7.8" height="7.8" stroke="#000" stroke-width="0.9" fill="none"/>
<rect x="565.8" y="370.8" width="6.4" height="13.2" stroke="#000" stroke-width="0.9" fill="none"/>
<path d="M565.8 377.4L572.2 377.4" stroke="#000" stroke-width="0.7"/>
<rect x="572.2" y="373.2" width="7.8" height="8.2" stroke="#000" stroke-width="0.9" fill="none"/>
<rect x="565.8" y="387" width="6.4" height="14.3" stroke="#000" stroke-width="0.9" fill="none"/>
<path d="M565.8 394.15L572.2 394.15" stroke="#000" stroke-width="0.7"/>
<rect x="572.2" y="389.4" width="7.8" height="9.3" stroke="#000" stroke-width="0.9" fill="none"/>
<text transform="translate(576.5 362.2) scale(0.65 1)" font-family="'Liberation Serif', serif" font-size="10.5" text-anchor="middle" fill="#000" stroke="#000" stroke-width="0.3">C</text>
<g transform="translate(912.4 0) scale(-1 1)">
<path d="M89 117.5L89 350" stroke="#222" stroke-width="0.7"/>
<path d="M95.6 117L95.6 292.4" stroke="#000" stroke-width="0.9"/>
<path d="M190.9 117L190.9 310" stroke="#000" stroke-width="0.9"/>
<path d="M89.05 166V218.6Q89.05 227.1 97.2 227.1H98" stroke="#000" stroke-width="3.8" fill="none"/>
<path d="M89.05 166V218.6Q89.05 227.1 97.2 227.1H98" stroke="#fff" stroke-width="1.5" fill="none"/>
<path d="M72.3 188V240.4Q72.3 248.6 80.4 248.6H98" stroke="#000" stroke-width="3.8" fill="none"/>
<path d="M72.3 188V240.4Q72.3 248.6 80.4 248.6H98" stroke="#fff" stroke-width="1.5" fill="none"/>
<rect x="85.35" y="131.2" width="7.3" height="8" stroke="#000" stroke-width="1.1" fill="#fff"/>
<path d="M78.25 138.1L82.45 140.3" stroke="#000" stroke-width="2" fill="none"/>
<path d="M78.65 139.8L80.85 141" stroke="#000" stroke-width="0.7" fill="none"/>
<rect x="81.05" y="140.4" width="2.3" height="13.6" stroke="#000" stroke-width="0.9" fill="#fff"/>
<path d="M80.25 154L85.85 154" stroke="#000" stroke-width="1.3"/>
<rect x="84.15" y="139.2" width="9.6" height="7.9" stroke="#000" stroke-width="0.6" fill="#0a0a0a"/>
<path d="M84.85 141.4L93.05 141.4" stroke="#777" stroke-width="0.35"/>
<path d="M84.85 143.2L93.05 143.2" stroke="#777" stroke-width="0.35"/>
<path d="M84.85 145L93.05 145" stroke="#777" stroke-width="0.35"/>
<rect x="86.15" y="147.1" width="5.9" height="8.1" stroke="#000" stroke-width="0.7" fill="#fff"/>
<path d="M87.15 147.2L87.15 155.2" stroke="#111" stroke-width="1.1"/>
<path d="M89.15 147.2L89.15 155.2" stroke="#111" stroke-width="1.1"/>
<path d="M91.05 147.2L91.05 155.2" stroke="#111" stroke-width="1.1"/>
<rect x="87.55" y="152.8" width="4.5" height="2.4" stroke="#000" stroke-width="0.4" fill="#222"/>
<rect x="85.35" y="155.2" width="7.3" height="9" stroke="#000" stroke-width="1.1" fill="#fff"/>
<path d="M89.05 155.8L89.05 163.6" stroke="#aaa" stroke-width="0.9"/>
<path d="M84.15 164.2H93.75L93.35 166.2L90.75 167.8H87.35L84.55 166.2Z" stroke="#000" stroke-width="0.5" fill="#000"/>
<rect x="68.6" y="153.2" width="7.3" height="8" stroke="#000" stroke-width="1.1" fill="#fff"/>
<path d="M61.5 160.1L65.7 162.3" stroke="#000" stroke-width="2" fill="none"/>
<path d="M61.9 161.8L64.1 163" stroke="#000" stroke-width="0.7" fill="none"/>
<rect x="64.3" y="162.4" width="2.3" height="13.6" stroke="#000" stroke-width="0.9" fill="#fff"/>
<path d="M63.5 176L69.1 176" stroke="#000" stroke-width="1.3"/>
<rect x="67.4" y="161.2" width="9.6" height="7.9" stroke="#000" stroke-width="0.6" fill="#0a0a0a"/>
<path d="M68.1 163.4L76.3 163.4" stroke="#777" stroke-width="0.35"/>
<path d="M68.1 165.2L76.3 165.2" stroke="#777" stroke-width="0.35"/>
<path d="M68.1 167L76.3 167" stroke="#777" stroke-width="0.35"/>
<rect x="69.4" y="169.1" width="5.9" height="8.1" stroke="#000" stroke-width="0.7" fill="#fff"/>
<path d="M70.4 169.2L70.4 177.2" stroke="#111" stroke-width="1.1"/>
<path d="M72.4 169.2L72.4 177.2" stroke="#111" stroke-width="1.1"/>
<path d="M74.3 169.2L74.3 177.2" stroke="#111" stroke-width="1.1"/>
<rect x="70.8" y="174.8" width="4.5" height="2.4" stroke="#000" stroke-width="0.4" fill="#222"/>
<rect x="68.6" y="177.2" width="7.3" height="9" stroke="#000" stroke-width="1.1" fill="#fff"/>
<path d="M72.3 177.8L72.3 185.6" stroke="#aaa" stroke-width="0.9"/>
<path d="M67.4 186.2H77L76.6 188.2L74 189.8H70.6L67.8 188.2Z" stroke="#000" stroke-width="0.5" fill="#000"/>
<path d="M143.3 202.4V174.4Q143.3 172.8 144.9 172.8H172.9Q174.5 172.8 174.5 174.4V202.4" stroke="#000" stroke-width="1.3" fill="none"/>
<path d="M149.4 172.8L151.2 170.4H166L167.6 172.8" stroke="#000" stroke-width="1.1" fill="#ccc"/>
<path d="M146.4 173L146.4 202.2" stroke="#000" stroke-width="1"/>
<path d="M170.8 173L170.8 202.2" stroke="#000" stroke-width="1"/>
<path d="M149.4 172.8L149.4 207.2" stroke="#000" stroke-width="1.1"/>
<path d="M167.6 172.8L167.6 207.2" stroke="#000" stroke-width="1.1"/>
<rect x="140.5" y="202.2" width="8.9" height="5" stroke="#000" stroke-width="1" fill="none"/>
<rect x="167.6" y="202.2" width="9.4" height="5" stroke="#000" stroke-width="1" fill="none"/>
<path d="M140.5 207.2L177 207.2" stroke="#000" stroke-width="1.3"/>
<path d="M140.5 213.3L177 213.3" stroke="#000" stroke-width="0.9"/>
<path d="M140.5 202.4L140.5 289.3" stroke="#000" stroke-width="1.3"/>
<path d="M177 202.4L177 289.3" stroke="#000" stroke-width="1.3"/>
<path d="M131.8 216.5H107.5L105.5 218.5V235.5L107.5 237.5H131.8Z" stroke="#000" stroke-width="1.3" fill="none"/>
<path d="M131.8 237.5H107.5L105.5 239.5V258L107.5 260H131.8Z" stroke="#000" stroke-width="1.3" fill="none"/>
<path d="M107.6 217L107.6 260" stroke="#000" stroke-width="0.6"/>
<path d="M131.8 216.5L131.8 260" stroke="#000" stroke-width="1.3"/>
<rect x="131.8" y="218" width="8.7" height="18.5" stroke="#000" stroke-width="1.1" fill="none"/>
<path d="M131.8 227.25L140.5 227.25" stroke="#000" stroke-width="1.1"/>
<path d="M133.2 218Q132.4 222.62 133.2 227.25M133.2 227.25Q132.4 231.88 133.2 236.5" stroke="#000" stroke-width="0.5" fill="none"/>
<rect x="131.8" y="239.5" width="8.7" height="18.5" stroke="#000" stroke-width="1.1" fill="none"/>
<path d="M131.8 248.75L140.5 248.75" stroke="#000" stroke-width="1.1"/>
<path d="M133.2 239.5Q132.4 244.12 133.2 248.75M133.2 248.75Q132.4 253.38 133.2 258" stroke="#000" stroke-width="0.5" fill="none"/>
<path d="M105.5 223.1L102.5 224.1V230.1L105.5 231.1Z" stroke="#000" stroke-width="0.5" fill="#000"/>
<rect x="98.6" y="224.8" width="3.9" height="4.6" stroke="#000" stroke-width="0.8" fill="#fff"/>
<path d="M98.6 224.8L97 225.3V228.9L98.6 229.4Z" stroke="#000" stroke-width="0.4" fill="#222"/>
<path d="M105.5 244.6L102.5 245.6V251.6L105.5 252.6Z" stroke="#000" stroke-width="0.5" fill="#000"/>
<rect x="98.6" y="246.3" width="3.9" height="4.6" stroke="#000" stroke-width="0.8" fill="#fff"/>
<path d="M98.6 246.3L97 246.8V250.4L98.6 250.9Z" stroke="#000" stroke-width="0.4" fill="#222"/>
<path d="M158.5 157L158.5 500.5" stroke="#000" stroke-width="0.55" stroke-dasharray="22 2 2 2"/>
<path d="M179.3 289.4L183.8 298.2" stroke="#000" stroke-width="1.3" fill="none"/>
<path d="M183.8 298.2C188 300 190.5 302.5 192.4 305C196.5 309.5 199.5 313.5 200.9 318C202.5 322 203.3 326 203.3 330V340" stroke="#000" stroke-width="0.9" fill="none"/>
<path d="M203.3 340C203.3 348 196 350 196 360C196 370 203.3 374 203.3 384" stroke="#222" stroke-width="0.7" fill="none"/>
<path d="M203.3 384V392C203.3 406 196 421 181.6 427.5" stroke="#000" stroke-width="0.9" fill="none"/>
<rect x="143.9" y="451" width="29.6" height="31.6" stroke="#000" stroke-width="1.3" fill="none"/>
<rect x="150.1" y="482.6" width="17.1" height="11.7" stroke="#000" stroke-width="1.3" fill="none"/>
<path d="M158.6 482.6L158.6 494.3" stroke="#000" stroke-width="0.9"/>
<rect x="142" y="453" width="9.1" height="26" stroke="#000" stroke-width="1.3" fill="#fff"/>
<path d="M142 454.7H119V477.2H138" stroke="#000" stroke-width="1.3" fill="none"/>
<path d="M142 470Q141 476 138 478V489.8H120.4V477.2" stroke="#000" stroke-width="1.3" fill="none"/>
<rect x="119.5" y="491.5" width="18.5" height="5.1" stroke="#000" stroke-width="0.9" fill="none"/>
<path d="M121 490.6L137.5 490.6" stroke="#000" stroke-width="0.5"/>
<path d="M124 491.5L124 496.6" stroke="#000" stroke-width="0.5"/>
<path d="M133.5 491.5L133.5 496.6" stroke="#000" stroke-width="0.5"/>
</g>
<path d="M781.6 240.2H792.4V256.4H781.6" stroke="#000" stroke-width="0.9" fill="none"/>
<path d="M788.5 240.2L790.5 242.5V254L788.5 256.4" stroke="#000" stroke-width="0.7" fill="none"/>
<path d="M790.5 242.5L790.5 254" stroke="#555" stroke-width="1.2"/>
<path d="M792.4 243L800 243" stroke="#000" stroke-width="0.9"/>
<path d="M801.6 243L799.2 244L799.2 242Z" fill="#000" stroke="none"/>
<path d="M792.4 248.4L800 248.4" stroke="#000" stroke-width="0.9"/>
<path d="M801.6 248.4L799.2 249.4L799.2 247.4Z" fill="#000" stroke="none"/>
<path d="M792.4 253.4L800 253.4" stroke="#000" stroke-width="0.9"/>
<path d="M801.6 253.4L799.2 254.4L799.2 252.4Z" fill="#000" stroke="none"/>
<path d="M721.5 124.4L834 124.4" stroke="#000" stroke-width="0.7"/>
<path d="M721.5 124.4L727 123.65L727 125.15Z" fill="#000" stroke="none"/>
<path d="M816.8 124.4L811.3 125.15L811.3 123.65Z" fill="#000" stroke="none"/>
<path d="M816.8 124.4L811.3 125.15L811.3 123.65Z" fill="#000" stroke="none"/>
<path d="M823.4 124.4L828.9 123.65L828.9 125.15Z" fill="#000" stroke="none"/>
<text transform="translate(769.6 123.4) scale(0.62 1)" font-family="'Liberation Serif', serif" font-size="11.6" text-anchor="middle" fill="#000" stroke="#000" stroke-width="0.3" textLength="35.48" lengthAdjust="spacing">113.5</text>
<text transform="translate(820 123.4) scale(0.75 1)" font-family="'Liberation Serif', serif" font-size="11" text-anchor="middle" fill="#000" stroke="#000" stroke-width="0.3">8</text>
<path d="M753.9 157L753.9 161" stroke="#000" stroke-width="0.7"/>
<path d="M721.5 161L753.9 161" stroke="#000" stroke-width="0.7"/>
<path d="M721.5 161L727 160.25L727 161.75Z" fill="#000" stroke="none"/>
<path d="M753.9 161L748.4 161.75L748.4 160.25Z" fill="#000" stroke="none"/>
<text transform="translate(738 160.2) scale(0.62 1)" font-family="'Liberation Serif', serif" font-size="11.6" text-anchor="middle" fill="#000" stroke="#000" stroke-width="0.3" textLength="27.42" lengthAdjust="spacing">38.5</text>
<path d="M711 283.6L746.7 283.6" stroke="#000" stroke-width="0.7"/>
<path d="M721.5 283.6L716 284.35L716 282.85Z" fill="#000" stroke="none"/>
<path d="M736 283.6L741.5 282.85L741.5 284.35Z" fill="#000" stroke="none"/>
<text transform="translate(729.5 282.6) scale(0.62 1)" font-family="'Liberation Serif', serif" font-size="11.6" text-anchor="middle" fill="#000" stroke="#000" stroke-width="0.3" textLength="13.55" lengthAdjust="spacing">18</text>
<path d="M736 250L736 324" stroke="#000" stroke-width="0.7"/>
<path d="M711 297.1L744 297.1" stroke="#000" stroke-width="0.7"/>
<path d="M721.5 297.1L716 297.85L716 296.35Z" fill="#000" stroke="none"/>
<text transform="translate(727.4 295.6) scale(0.62 1)" font-family="'Liberation Serif', serif" font-size="11.6" text-anchor="middle" fill="#000" stroke="#000" stroke-width="0.3" textLength="13.23" lengthAdjust="spacing">15</text>
<path d="M698 316.3L722.4 316.3" stroke="#000" stroke-width="0.7"/>
<path d="M698 324.4L722.4 324.4" stroke="#000" stroke-width="0.7"/>
<path d="M701.3 306.5L701.3 329" stroke="#000" stroke-width="0.7"/>
<path d="M701.3 316.3L700.6 311.3L702 311.3Z" fill="#000" stroke="none"/>
<path d="M701.3 324.4L702 329.4L700.6 329.4Z" fill="#000" stroke="none"/>
<text transform="translate(700 334) rotate(-90) scale(0.7 1)" font-family="'Liberation Serif', serif" font-size="9.5" text-anchor="middle" fill="#000" stroke="#000" stroke-width="0.3" font-weight="bold" textLength="17.86" lengthAdjust="spacing">M10</text>
<path d="M700.8 460L759.3 460" stroke="#000" stroke-width="0.7"/>
<text transform="translate(710.4 458.6) scale(0.62 1)" font-family="'Liberation Serif', serif" font-size="11.6" text-anchor="middle" fill="#000" stroke="#000" stroke-width="0.3" textLength="27.42" lengthAdjust="spacing">34.5</text>
<path d="M721.5 415L721.5 463.6" stroke="#000" stroke-width="0.7"/>
<path d="M750.3 362L750.3 463.6" stroke="#000" stroke-width="0.7"/>
<path d="M750.3 460L744.8 460.75L744.8 459.25Z" fill="#000" stroke="none"/>
<path d="M734 289.7H773" stroke="#000" stroke-width="1.4" fill="none"/>
<path d="M743 289.5V286.6H764.6V289.5" stroke="#000" stroke-width="1.2" fill="none"/>
<path d="M772 289.5L776.5 287C786 288.5 795 293 804 294.5L807 297.5L816.5 298.5" stroke="#000" stroke-width="1.3" fill="none"/>
<path d="M772 291C778 290.5 784 292 793 295C797 296 801 295.5 804 294.5" stroke="#000" stroke-width="0.9" fill="none"/>
<path d="M778 290.6L816.8 290.6" stroke="#000" stroke-width="0.8"/>
<path d="M790 293L816.8 293" stroke="#000" stroke-width="0.7"/>
<path d="M772 297.6L790 297.6" stroke="#666" stroke-width="0.7"/>
<path d="M786 299L798 299" stroke="#777" stroke-width="0.7"/>
<path d="M816.8 291L816.8 434" stroke="#000" stroke-width="1.3"/>
<path d="M734 289.5L730.5 296.5C728 300 724.5 305 721.5 311" stroke="#000" stroke-width="0.9" fill="none"/>
<path d="M736 291L733 297C730.5 301 727 306 723 312" stroke="#000" stroke-width="0.7" fill="none"/>
<path d="M734 291.5C731 293.5 729.5 296 728.6 298.2" stroke="#000" stroke-width="0.9" fill="none"/>
<path d="M721.6 311L721.6 415" stroke="#000" stroke-width="1.3"/>
<path d="M724.3 327L724.3 412" stroke="#000" stroke-width="0.9"/>
<path d="M742.1 336.5V297.2Q742.1 295 744.3 295H769.8Q772 295 772 297.2V329C772 333 774 336 776.6 338" stroke="#000" stroke-width="1.3" fill="none"/>
<path d="M816.8 302.2H794.4Q790.4 302.2 790.4 306.2V330Q790.4 334 794.4 334H816.8" stroke="#555" stroke-width="0.7" fill="none"/>
<path d="M790.4 311.5L816.8 311.5" stroke="#555" stroke-width="0.7"/>
<path d="M790.4 326L816.8 326" stroke="#555" stroke-width="0.7"/>
<path d="M812 315V321.8M812 318.4H803.5" stroke="#777" stroke-width="1" fill="none"/>
<text transform="translate(806 363) rotate(90) scale(0.75 1)" font-family="'Liberation Serif', serif" font-size="9.5" text-anchor="middle" fill="#444" stroke="#444" stroke-width="0.3">P</text>
<path d="M722.5 311.5H736.5Q739.5 313 739.5 318V321.5Q739.5 325.5 736.5 325.5H722.5" stroke="#000" stroke-width="0.9" fill="#fff"/>
<path d="M722.5 316.5L739 316.5" stroke="#000" stroke-width="0.9"/>
<path d="M722.5 320L739 320" stroke="#000" stroke-width="0.7"/>
<path d="M722.5 324L738 324" stroke="#000" stroke-width="0.7"/>
<path d="M723.5 316.3L726.1 311.7" stroke="#000" stroke-width="0.5"/>
<path d="M726.1 316.3L728.7 311.7" stroke="#000" stroke-width="0.5"/>
<path d="M728.7 316.3L731.3 311.7" stroke="#000" stroke-width="0.5"/>
<path d="M731.3 316.3L733.9 311.7" stroke="#000" stroke-width="0.5"/>
<path d="M733.9 316.3L736.5 311.7" stroke="#000" stroke-width="0.5"/>
<path d="M736.5 316.3L739.1 311.7" stroke="#000" stroke-width="0.5"/>
<path d="M736.2 316.5L736.2 325.5" stroke="#000" stroke-width="0.6"/>
<circle cx="731.9" cy="330.8" r="8.1" stroke="#000" stroke-width="2" fill="none"/>
<circle cx="731.9" cy="330.8" r="5.3" stroke="#000" stroke-width="1" fill="none"/>
<path d="M735 330.8L733.45 333.48L730.35 333.48L728.8 330.8L730.35 328.12L733.45 328.12Z" stroke="#000" stroke-width="0.9" fill="none"/>
<circle cx="731.9" cy="394.3" r="8.1" stroke="#000" stroke-width="2" fill="none"/>
<circle cx="731.9" cy="394.3" r="5.3" stroke="#000" stroke-width="1" fill="none"/>
<path d="M735 394.3L733.45 396.98L730.35 396.98L728.8 394.3L730.35 391.62L733.45 391.62Z" stroke="#000" stroke-width="0.9" fill="none"/>
<path d="M762.8 341.4A24.3 24.3 0 1 0 762.8 383" stroke="#000" stroke-width="1.3" fill="none"/>
<path d="M762.8 341.4C767 345 768 352 775.2 362.2C768 372 767 379 762.8 383" stroke="#000" stroke-width="0.9" fill="none"/>
<circle cx="750.3" cy="362.2" r="15.9" stroke="#000" stroke-width="1.3" fill="none"/>
<circle cx="750.3" cy="362.2" r="10.3" stroke="#000" stroke-width="1.3" fill="none"/>
<circle cx="750.3" cy="362.2" r="9" stroke="#000" stroke-width="0.7" fill="none"/>
<path d="M723.2 362.2L773.6 362.2" stroke="#000" stroke-width="0.5"/>
<text transform="translate(751 364.5) rotate(90) scale(0.75 1)" font-family="'Liberation Serif', serif" font-size="7" text-anchor="middle" fill="#000" stroke="#000" stroke-width="0.3" font-weight="bold">P</text>
<circle cx="776.3" cy="347.4" r="9.5" stroke="#000" stroke-width="1.9" fill="none"/>
<circle cx="776.3" cy="347.4" r="7.3" stroke="#000" stroke-width="0.8" fill="none"/>
<circle cx="776.3" cy="347.4" r="5" stroke="#000" stroke-width="1.5" fill="none"/>
<rect x="774.5" y="345.6" width="3.6" height="3.6" stroke="#000" stroke-width="0.5" fill="#444"/>
<path d="M774.5 347.4H778.1M776.3 345.6V349.2" stroke="#fff" stroke-width="0.4" fill="none"/>
<circle cx="776.3" cy="377.4" r="9.5" stroke="#000" stroke-width="1.9" fill="none"/>
<circle cx="776.3" cy="377.4" r="7.3" stroke="#000" stroke-width="0.8" fill="none"/>
<circle cx="776.3" cy="377.4" r="5" stroke="#000" stroke-width="1.5" fill="none"/>
<rect x="774.5" y="375.6" width="3.6" height="3.6" stroke="#000" stroke-width="0.5" fill="#444"/>
<path d="M774.5 377.4H778.1M776.3 375.6V379.2" stroke="#fff" stroke-width="0.4" fill="none"/>
<path d="M722.4 388.5A10.3 10.3 0 0 1 742.1 392.5C743 396 741.5 399 741.5 404A12.8 12.8 0 0 0 767.1 404V397.5C767.1 393 770 389.5 776 387.8" stroke="#000" stroke-width="1.3" fill="none"/>
<path d="M786.8 378A10.6 10.6 0 0 1 776 387.8" stroke="#000" stroke-width="1.3" fill="none"/>
<path d="M785.8 347L785.8 378" stroke="#000" stroke-width="0.7"/>
<path d="M785.8 346.2L816.8 346.2" stroke="#444" stroke-width="0.7"/>
<path d="M785.8 354.6L816.8 354.6" stroke="#444" stroke-width="0.7"/>
<path d="M785.8 369.6L816.8 369.6" stroke="#444" stroke-width="0.7"/>
<path d="M786.8 378H793.4L794.6 386.8H801.6" stroke="#000" stroke-width="0.9" fill="none"/>
<path d="M801.6 388L816.8 388" stroke="#000" stroke-width="0.9"/>
<path d="M793.6 388L787 421.3" stroke="#000" stroke-width="0.7"/>
<path d="M816.8 349.2H821Q823.4 349.2 823.4 352V372.3Q823.4 375 821 375H816.8" stroke="#000" stroke-width="1.3" fill="none"/>
<path d="M820.4 350L820.4 374.4" stroke="#000" stroke-width="0.8"/>
<rect x="801.8" y="391.2" width="6" height="24.6" stroke="#000" stroke-width="1.3" fill="#fff"/>
<rect x="807.8" y="393.6" width="4.2" height="19.8" stroke="#000" stroke-width="1.3" fill="#fff"/>
<rect x="812" y="398.4" width="4.4" height="11.4" stroke="#000" stroke-width="0.9" fill="#fff"/>
<rect x="816.4" y="400.8" width="7.6" height="6.6" stroke="#000" stroke-width="1.3" fill="#fff"/>
<path d="M801.8 397L812 397" stroke="#000" stroke-width="0.8"/>
<path d="M801.8 410L812 410" stroke="#000" stroke-width="0.8"/>
<path d="M801.8 403.5L807.8 403.5" stroke="#000" stroke-width="0.6"/>
<path d="M804.8 391.2L804.8 415.8" stroke="#000" stroke-width="0.6"/>
<path d="M721.6 415C722 418 728 421 734.1 427.6L735 434.8H769.2" stroke="#000" stroke-width="1.3" fill="none"/>
<path d="M723.5 413.5C725 418 730 422 734.5 425.5" stroke="#000" stroke-width="0.7" fill="none"/>
<path d="M771.9 435C773.5 432.5 779 428.5 785 425C788 423 789.5 421.5 790.5 420.6H801.3V416" stroke="#000" stroke-width="1.3" fill="none"/>
<path d="M773.8 436.3C784 432 794 429.5 802.5 428.1L816.5 426.3" stroke="#000" stroke-width="0.9" fill="none"/>
<path d="M775 437.6C783 434.5 792 431.5 802.5 429.3" stroke="#000" stroke-width="0.7" fill="none"/>
<path d="M776 437C784 433 793 430.5 800 428.6" stroke="#000" stroke-width="0.8" fill="none"/>
<path d="M803.8 433.8L816.8 433.8" stroke="#000" stroke-width="0.9"/>
<rect x="735.6" y="435" width="36.3" height="10.6" stroke="#000" stroke-width="1.3" fill="none"/>
<path d="M740 435L740 445.6" stroke="#000" stroke-width="1"/>
<path d="M744.4 435L744.4 445.6" stroke="#000" stroke-width="1"/>
<path d="M748.8 435L748.8 445.6" stroke="#000" stroke-width="1"/>
<path d="M751.3 435L751.3 445.6" stroke="#000" stroke-width="1"/>
<path d="M758.8 435L758.8 445.6" stroke="#000" stroke-width="1"/>
<path d="M763.1 435L763.1 445.6" stroke="#000" stroke-width="1"/>
<path d="M766.9 435L766.9 445.6" stroke="#000" stroke-width="1"/>
<path d="M735.6 444.7L771.9 444.7" stroke="#000" stroke-width="1.6"/>
<rect x="744.4" y="445.6" width="18.7" height="5" stroke="#000" stroke-width="1.3" fill="none"/>
<path d="M751.3 445.6L751.3 450.6" stroke="#000" stroke-width="0.9"/>
<path d="M755 445.6L755 450.6" stroke="#000" stroke-width="0.9"/>
<text class="tb" x="439.9" y="537" font-size="10" textLength="41" lengthAdjust="spacingAndGlyphs">液压原理图</text>
<path d="M292.2 576.4L607.5 576.4" stroke="#000" stroke-width="0.7" stroke-dasharray="13 2.5 4 2.5"/>
<path d="M292.2 720.1L607.5 720.1" stroke="#000" stroke-width="0.7" stroke-dasharray="13 2.5 4 2.5"/>
<path d="M292.2 576.4L292.2 720.1" stroke="#000" stroke-width="0.7" stroke-dasharray="7.3 2.2"/>
<path d="M607.5 576.4L607.5 720.1" stroke="#000" stroke-width="0.7" stroke-dasharray="13 2.5 4 2.5"/>
<text transform="translate(316.5 573) scale(0.6 1)" font-family="'Liberation Serif', serif" font-size="12" text-anchor="middle" fill="#000" stroke="#000" stroke-width="0.3" textLength="11.67" lengthAdjust="spacing">P1</text>
<text transform="translate(590.5 570.6) scale(0.6 1)" font-family="'Liberation Serif', serif" font-size="12" text-anchor="middle" fill="#000" stroke="#000" stroke-width="0.3" textLength="11.67" lengthAdjust="spacing">T1</text>
<text transform="translate(284.5 615.6) scale(0.62 1)" font-family="'Liberation Serif', serif" font-size="12" text-anchor="middle" fill="#000" stroke="#000" stroke-width="0.3">P</text>
<text transform="translate(284.3 711.8) scale(0.62 1)" font-family="'Liberation Serif', serif" font-size="12" text-anchor="middle" fill="#000" stroke="#000" stroke-width="0.3">T</text>
<text transform="translate(615 662.5) scale(0.6 1)" font-family="'Liberation Serif', serif" font-size="12" text-anchor="middle" fill="#000" stroke="#000" stroke-width="0.3">C</text>
<text transform="translate(402.6 573) scale(0.5 1)" font-family="'Liberation Serif', serif" font-size="15" text-anchor="middle" fill="#000" stroke="#000" stroke-width="0.25" textLength="17.2" lengthAdjust="spacing">A<tspan font-size="11.5">1</tspan></text>
<text transform="translate(416.4 573) scale(0.5 1)" font-family="'Liberation Serif', serif" font-size="15" text-anchor="middle" fill="#000" stroke="#000" stroke-width="0.25" textLength="18.4" lengthAdjust="spacing">B<tspan font-size="11.5">1</tspan></text>
<text transform="translate(454.4 573) scale(0.5 1)" font-family="'Liberation Serif', serif" font-size="15" text-anchor="middle" fill="#000" stroke="#000" stroke-width="0.25" textLength="17.2" lengthAdjust="spacing">A<tspan font-size="11.5">2</tspan></text>
<text transform="translate(467 573) scale(0.5 1)" font-family="'Liberation Serif', serif" font-size="15" text-anchor="middle" fill="#000" stroke="#000" stroke-width="0.25" textLength="18.4" lengthAdjust="spacing">B<tspan font-size="11.5">2</tspan></text>
<text transform="translate(501.6 573) scale(0.5 1)" font-family="'Liberation Serif', serif" font-size="15" text-anchor="middle" fill="#000" stroke="#000" stroke-width="0.25" textLength="17.2" lengthAdjust="spacing">A<tspan font-size="11.5">3</tspan></text>
<text transform="translate(513 573) scale(0.5 1)" font-family="'Liberation Serif', serif" font-size="15" text-anchor="middle" fill="#000" stroke="#000" stroke-width="0.25" textLength="18.4" lengthAdjust="spacing">B<tspan font-size="11.5">3</tspan></text>
<text transform="translate(551.9 573) scale(0.5 1)" font-family="'Liberation Serif', serif" font-size="15" text-anchor="middle" fill="#000" stroke="#000" stroke-width="0.25" textLength="17.2" lengthAdjust="spacing">A<tspan font-size="11.5">4</tspan></text>
<text transform="translate(562.5 573) scale(0.5 1)" font-family="'Liberation Serif', serif" font-size="15" text-anchor="middle" fill="#000" stroke="#000" stroke-width="0.25" textLength="18.4" lengthAdjust="spacing">B<tspan font-size="11.5">4</tspan></text>
<path d="M316.3 576.4L316.3 611" stroke="#000" stroke-width="0.8"/>
<path d="M292.2 610.9L316.3 610.9" stroke="#000" stroke-width="0.8"/>
<path d="M316.3 610.9L368.5 610.9" stroke="#000" stroke-width="0.8"/>
<path d="M368.5 610.3L368.5 656.9" stroke="#000" stroke-width="0.8"/>
<path d="M368.5 656.4L607.5 656.4" stroke="#000" stroke-width="0.8"/>
<circle cx="316.3" cy="610.9" r="1" stroke="none" stroke-width="0" fill="#000"/>
<circle cx="331.5" cy="610.9" r="1" stroke="none" stroke-width="0" fill="#000"/>
<path d="M316.3 573.8l-1.6 2.6h3.2z" stroke="none" stroke-width="0" fill="#000"/>
<path d="M590 573.8l-1.6 2.6h3.2z" stroke="none" stroke-width="0" fill="#000"/>
<path d="M292.2 707.3L590 707.3" stroke="#000" stroke-width="0.8"/>
<path d="M590 576.4L590 707.3" stroke="#000" stroke-width="0.8"/>
<circle cx="590" cy="656.4" r="1" stroke="none" stroke-width="0" fill="#000"/>
<circle cx="590" cy="601" r="1" stroke="none" stroke-width="0" fill="#000"/>
<path d="M607.5 654.6L607.5 658.2" stroke="#000" stroke-width="0.8"/>
<path d="M331.5 610.9L331.5 707.3" stroke="#000" stroke-width="0.8"/>
<path d="M316.3 610.9L316.3 633.5" stroke="#000" stroke-width="0.5"/>
<path d="M331.5 624.3H309.2V637.5H331.5" stroke="#000" stroke-width="0.5" fill="none"/>
<circle cx="331.5" cy="624.3" r="0.9" stroke="none" stroke-width="0" fill="#000"/>
<circle cx="331.5" cy="637.5" r="0.9" stroke="none" stroke-width="0" fill="#000"/>
<circle cx="316.3" cy="624" r="0.8" stroke="none" stroke-width="0" fill="#000"/>
<rect x="313.5" y="633.5" width="5.5" height="6.5" stroke="#333" stroke-width="0.7" fill="#fff"/>
<path d="M315.3 633.5L315.3 640" stroke="#333" stroke-width="0.6"/>
<path d="M314.4 633.5L314.4 640" stroke="#666" stroke-width="0.5"/>
<path d="M319.5 634.8l1-1.6l1 1.6l1-1.6l1 1.6" stroke="#777" stroke-width="0.4" fill="none"/>
<path d="M316.3 640L316.3 707.3" stroke="#000" stroke-width="0.6" stroke-dasharray="2.6 1.4"/>
<path d="M329.6 628.2q2 2.6 0 5.2M333.4 628.2q-2 2.6 0 5.2" stroke="#333" stroke-width="0.6" fill="none"/>
<text transform="translate(337 632.6) scale(0.85 1)" font-family="'Liberation Sans', sans-serif" font-size="5.2" text-anchor="start" fill="#000" stroke="#000" stroke-width="0.3" font-weight="bold" textLength="16.47" lengthAdjust="spacing">0.75mm</text>
<path d="M329.6 642.4q2 2.6 0 5.2M333.4 642.4q-2 2.6 0 5.2" stroke="#333" stroke-width="0.6" fill="none"/>
<text transform="translate(337 646.8) scale(0.85 1)" font-family="'Liberation Sans', sans-serif" font-size="5.2" text-anchor="start" fill="#000" stroke="#000" stroke-width="0.3" font-weight="bold" textLength="16.47" lengthAdjust="spacing">0.75mm</text>
<circle cx="331.5" cy="654.5" r="0.9" stroke="none" stroke-width="0" fill="#000"/>
<path d="M331.5 654.5H351.2V683.4" stroke="#000" stroke-width="0.5" fill="none"/>
<path d="M351.2 689.2L351.2 707.3" stroke="#000" stroke-width="0.6" stroke-dasharray="2.6 1.4"/>
<rect x="327.8" y="664.5" width="6.7" height="8.5" stroke="#444" stroke-width="0.7" fill="#fff"/>
<path d="M330 664.5L330 673" stroke="#444" stroke-width="0.6"/>
<path d="M327.8 668.5H325.2V659.2L329.2 663.4" stroke="#555" stroke-width="0.6" fill="none"/>
<path d="M343 667L336.4 669.8" stroke="#333" stroke-width="0.5"/>
<path d="M336 670L337.71 668.4L338.34 669.88Z" fill="#333" stroke="none"/>
<text transform="translate(317 679) scale(0.85 1)" font-family="'Liberation Sans', sans-serif" font-size="5" text-anchor="start" fill="#000" stroke="#000" stroke-width="0.3" font-weight="bold" textLength="13.53" lengthAdjust="spacing">21MPa</text>
<path d="M346.5 675.5L351.2 683.2L356.5 675.5H362.6V707.3" stroke="#000" stroke-width="0.5" fill="none"/>
<path d="M346.5 675.5H338.8V686.2H342" stroke="#000" stroke-width="0.5" fill="none"/>
<rect x="341.8" y="683.4" width="13.8" height="5.8" stroke="#000" stroke-width="0.6" fill="#fff"/>
<path d="M345 683.4L345 689.2" stroke="#000" stroke-width="0.5"/>
<path d="M348.4 683.4L348.4 689.2" stroke="#000" stroke-width="0.5"/>
<path d="M351.8 683.4L351.8 689.2" stroke="#000" stroke-width="0.5"/>
<path d="M348.4 686.3L353.5 686.3" stroke="#000" stroke-width="0.5"/>
<rect x="352.2" y="684.2" width="2.8" height="4.2" stroke="none" stroke-width="0" fill="#333"/>
<rect x="356" y="684.2" width="1.6" height="1.4" stroke="none" stroke-width="0" fill="#222"/>
<rect x="356" y="687" width="1.6" height="1.4" stroke="none" stroke-width="0" fill="#222"/>
<text transform="translate(359 676.5) scale(0.9 1)" font-family="'Liberation Sans', sans-serif" font-size="3.6" text-anchor="middle" fill="#444" stroke="#444" stroke-width="0.3">(H)</text>
<rect x="359.2" y="693.6" width="12.6" height="5.8" stroke="#000" stroke-width="0.6" fill="#fff"/>
<path d="M362.6 693.6L362.6 699.4" stroke="#000" stroke-width="0.5"/>
<path d="M365.8 693.6L365.8 699.4" stroke="#000" stroke-width="0.5"/>
<path d="M367 694.8l1.6 3.2l1.6-3.2" stroke="#444" stroke-width="0.4" fill="none"/>
<rect x="356.5" y="695.4" width="2.7" height="1.8" stroke="none" stroke-width="0" fill="#111"/>
<rect x="371.8" y="697" width="2" height="2.4" stroke="#000" stroke-width="0.4" fill="#fff"/>
<rect x="373.8" y="697" width="2" height="2.4" stroke="#000" stroke-width="0.4" fill="#fff"/>
<circle cx="316.5" cy="707.3" r="1" stroke="none" stroke-width="0" fill="#000"/>
<circle cx="331.5" cy="707.3" r="1" stroke="none" stroke-width="0" fill="#000"/>
<circle cx="351" cy="707.3" r="1" stroke="none" stroke-width="0" fill="#000"/>
<circle cx="362.6" cy="707.3" r="1" stroke="none" stroke-width="0" fill="#000"/>
<path d="M380.5 601L590 601" stroke="#333" stroke-width="1"/>
<path d="M380.5 599L380.5 603" stroke="#333" stroke-width="0.6"/>
<path d="M422.6 610.9L528.5 610.9" stroke="#333" stroke-width="1"/>
<path d="M403.5 576.4L403.5 651.5" stroke="#444" stroke-width="0.5"/>
<path d="M413.2 576.4L413.2 660.5" stroke="#333" stroke-width="0.9"/>
<path d="M454.5 576.4L454.5 651.5" stroke="#444" stroke-width="0.5"/>
<path d="M463.6 576.4L463.6 660.5" stroke="#444" stroke-width="0.5"/>
<path d="M501.5 576.4L501.5 651.5" stroke="#444" stroke-width="0.5"/>
<path d="M511.2 576.4L511.2 660.5" stroke="#333" stroke-width="0.9"/>
<path d="M551.8 576.4L551.8 651.5" stroke="#444" stroke-width="0.5"/>
<path d="M561.3 576.4L561.3 660.5" stroke="#444" stroke-width="0.5"/>
<path d="M392.5 601V593.2H403.5" stroke="#444" stroke-width="0.5" fill="none"/>
<rect x="396.9" y="591" width="3.2" height="4.4" stroke="none" stroke-width="0" fill="#fff"/>
<path d="M397.5 591L397.5 595.4" stroke="#444" stroke-width="0.5"/>
<path d="M399.5 591L399.5 595.4" stroke="#444" stroke-width="0.5"/>
<circle cx="403.5" cy="593.2" r="0.9" stroke="none" stroke-width="0" fill="#000"/>
<path d="M423.5 601V593.2H413.2" stroke="#444" stroke-width="0.5" fill="none"/>
<rect x="415.9" y="591" width="3.2" height="4.4" stroke="none" stroke-width="0" fill="#fff"/>
<path d="M416.5 591L416.5 595.4" stroke="#444" stroke-width="0.5"/>
<path d="M418.5 591L418.5 595.4" stroke="#444" stroke-width="0.5"/>
<circle cx="413.2" cy="593.2" r="0.9" stroke="none" stroke-width="0" fill="#000"/>
<circle cx="392.5" cy="601" r="0.9" stroke="none" stroke-width="0" fill="#000"/>
<circle cx="423.5" cy="601" r="0.9" stroke="none" stroke-width="0" fill="#000"/>
<circle cx="403.5" cy="601" r="0.6" stroke="none" stroke-width="0" fill="#000"/>
<circle cx="413.2" cy="601" r="0.6" stroke="none" stroke-width="0" fill="#000"/>
<path d="M443.5 601V593.2H454.5" stroke="#444" stroke-width="0.5" fill="none"/>
<rect x="447.9" y="591" width="3.2" height="4.4" stroke="none" stroke-width="0" fill="#fff"/>
<path d="M448.5 591L448.5 595.4" stroke="#444" stroke-width="0.5"/>
<path d="M450.5 591L450.5 595.4" stroke="#444" stroke-width="0.5"/>
<circle cx="454.5" cy="593.2" r="0.9" stroke="none" stroke-width="0" fill="#000"/>
<path d="M474.5 601V593.2H463.6" stroke="#444" stroke-width="0.5" fill="none"/>
<rect x="466.9" y="591" width="3.2" height="4.4" stroke="none" stroke-width="0" fill="#fff"/>
<path d="M467.5 591L467.5 595.4" stroke="#444" stroke-width="0.5"/>
<path d="M469.5 591L469.5 595.4" stroke="#444" stroke-width="0.5"/>
<circle cx="463.6" cy="593.2" r="0.9" stroke="none" stroke-width="0" fill="#000"/>
<circle cx="443.5" cy="601" r="0.9" stroke="none" stroke-width="0" fill="#000"/>
<circle cx="474.5" cy="601" r="0.9" stroke="none" stroke-width="0" fill="#000"/>
<circle cx="454.5" cy="601" r="0.6" stroke="none" stroke-width="0" fill="#000"/>
<circle cx="463.6" cy="601" r="0.6" stroke="none" stroke-width="0" fill="#000"/>
<path d="M490.8 601V593.2H501.5" stroke="#444" stroke-width="0.5" fill="none"/>
<rect x="494.9" y="591" width="3.2" height="4.4" stroke="none" stroke-width="0" fill="#fff"/>
<path d="M495.5 591L495.5 595.4" stroke="#444" stroke-width="0.5"/>
<path d="M497.5 591L497.5 595.4" stroke="#444" stroke-width="0.5"/>
<circle cx="501.5" cy="593.2" r="0.9" stroke="none" stroke-width="0" fill="#000"/>
<path d="M521.7 601V593.2H511.2" stroke="#444" stroke-width="0.5" fill="none"/>
<rect x="513.9" y="591" width="3.2" height="4.4" stroke="none" stroke-width="0" fill="#fff"/>
<path d="M514.5 591L514.5 595.4" stroke="#444" stroke-width="0.5"/>
<path d="M516.5 591L516.5 595.4" stroke="#444" stroke-width="0.5"/>
<circle cx="511.2" cy="593.2" r="0.9" stroke="none" stroke-width="0" fill="#000"/>
<circle cx="490.8" cy="601" r="0.9" stroke="none" stroke-width="0" fill="#000"/>
<circle cx="521.7" cy="601" r="0.9" stroke="none" stroke-width="0" fill="#000"/>
<circle cx="501.5" cy="601" r="0.6" stroke="none" stroke-width="0" fill="#000"/>
<circle cx="511.2" cy="601" r="0.6" stroke="none" stroke-width="0" fill="#000"/>
<path d="M540.6 601V593.2H551.8" stroke="#444" stroke-width="0.5" fill="none"/>
<rect x="544.9" y="591" width="3.2" height="4.4" stroke="none" stroke-width="0" fill="#fff"/>
<path d="M545.5 591L545.5 595.4" stroke="#444" stroke-width="0.5"/>
<path d="M547.5 591L547.5 595.4" stroke="#444" stroke-width="0.5"/>
<circle cx="551.8" cy="593.2" r="0.9" stroke="none" stroke-width="0" fill="#000"/>
<path d="M571.6 601V593.2H561.3" stroke="#444" stroke-width="0.5" fill="none"/>
<rect x="563.9" y="591" width="3.2" height="4.4" stroke="none" stroke-width="0" fill="#fff"/>
<path d="M564.5 591L564.5 595.4" stroke="#444" stroke-width="0.5"/>
<path d="M566.5 591L566.5 595.4" stroke="#444" stroke-width="0.5"/>
<circle cx="561.3" cy="593.2" r="0.9" stroke="none" stroke-width="0" fill="#000"/>
<circle cx="540.6" cy="601" r="0.9" stroke="none" stroke-width="0" fill="#000"/>
<circle cx="571.6" cy="601" r="0.9" stroke="none" stroke-width="0" fill="#000"/>
<circle cx="551.8" cy="601" r="0.6" stroke="none" stroke-width="0" fill="#000"/>
<circle cx="561.3" cy="601" r="0.6" stroke="none" stroke-width="0" fill="#000"/>
<path d="M368.5 640.5H374.5V651.5H383.7" stroke="#000" stroke-width="0.5" fill="none"/>
<circle cx="368.5" cy="640.5" r="0.8" stroke="none" stroke-width="0" fill="#000"/>
<path d="M413.2 660.5H383.3V693.5H422.7V610.9" stroke="#444" stroke-width="0.5" fill="none"/>
<circle cx="422.7" cy="656.4" r="1" stroke="none" stroke-width="0" fill="#000"/>
<path d="M432 610.9V651.5H433.7" stroke="#222" stroke-width="1" fill="none"/>
<circle cx="432" cy="610.9" r="1" stroke="none" stroke-width="0" fill="#000"/>
<path d="M463.6 660.5H432V707.3" stroke="#333" stroke-width="1" fill="none"/>
<circle cx="432" cy="707.3" r="1" stroke="none" stroke-width="0" fill="#000"/>
<path d="M479.7 610.9V651.5H481.7" stroke="#222" stroke-width="0.8" fill="none"/>
<circle cx="479.7" cy="610.9" r="1" stroke="none" stroke-width="0" fill="#000"/>
<path d="M511.2 660.5H479.7V707.3" stroke="#333" stroke-width="0.7" fill="none"/>
<circle cx="479.7" cy="707.3" r="1" stroke="none" stroke-width="0" fill="#000"/>
<path d="M528.5 610.9V651.5H530.9" stroke="#222" stroke-width="0.8" fill="none"/>
<circle cx="528.5" cy="610.9" r="0" stroke="none" stroke-width="0" fill="#000"/>
<path d="M561.3 660.5H528.5V707.3" stroke="#333" stroke-width="0.7" fill="none"/>
<circle cx="528.5" cy="707.3" r="1" stroke="none" stroke-width="0" fill="#000"/>
<path d="M528.5 610.4L528.5 612" stroke="#333" stroke-width="1"/>
<rect x="393.7" y="616.5" width="3" height="12.2" stroke="#444" stroke-width="0.5" fill="#ddd"/>
<path d="M393.7 617.8L396.7 617.8" stroke="#333" stroke-width="0.5"/>
<path d="M393.7 620.2L396.7 620.2" stroke="#333" stroke-width="0.5"/>
<path d="M393.7 622.6L396.7 622.6" stroke="#333" stroke-width="0.5"/>
<path d="M393.7 625L396.7 625" stroke="#333" stroke-width="0.5"/>
<path d="M393.7 627.4L396.7 627.4" stroke="#333" stroke-width="0.5"/>
<text transform="translate(397.1 621) scale(0.9 1)" font-family="'Liberation Sans', sans-serif" font-size="3.6" text-anchor="start" fill="#000" stroke="#000" stroke-width="0.2" font-weight="bold">Pa</text>
<text transform="translate(397.1 628.2) scale(0.9 1)" font-family="'Liberation Sans', sans-serif" font-size="3.6" text-anchor="start" fill="#000" stroke="#000" stroke-width="0.2" font-weight="bold">ar</text>
<path d="M396.9 616.5L396.9 629" stroke="#000" stroke-width="0.6"/>
<path d="M388.3 629L391.9 627.5L388.3 626L391.9 624.5L388.3 623" stroke="#777" stroke-width="0.4" fill="none"/>
<path d="M388.3 628.6L388.3 683" stroke="#444" stroke-width="0.5"/>
<path d="M396.7 628.6L396.7 683" stroke="#444" stroke-width="0.5"/>
<path d="M388.3 633.5L395.5 633.5" stroke="#000" stroke-width="1"/>
<path d="M389.3 642.5L396.7 642.5" stroke="#444" stroke-width="0.5"/>
<path d="M388.8 642.5L393 642.5" stroke="#000" stroke-width="1"/>
<path d="M388.3 647L396.7 647" stroke="#444" stroke-width="0.5"/>
<path d="M388.3 665L396.7 665" stroke="#444" stroke-width="0.5"/>
<path d="M388.3 670L396.7 670" stroke="#444" stroke-width="0.5"/>
<path d="M388.3 679L396.7 679" stroke="#444" stroke-width="0.5"/>
<path d="M388.3 683L396.7 683" stroke="#444" stroke-width="0.5"/>
<path d="M390.3 637.2v2M390.3 638.2h1.5M395.7 637.2v2M395.7 638.2h-1.5" stroke="#444" stroke-width="0.4" fill="none"/>
<path d="M388.3 670L396.7 679M396.7 670L388.3 679" stroke="#000" stroke-width="0.9" fill="none"/>
<path d="M392.1 683L392.1 689" stroke="#666" stroke-width="0.8"/>
<path d="M393.3 683L393.3 689" stroke="#666" stroke-width="0.8"/>
<path d="M389.1 689L397.3 689" stroke="#666" stroke-width="1.2"/>
<path d="M383.7 651.5L387.7 649.7L387.7 653.3Z" stroke="#444" stroke-width="0.5" fill="#fff"/>
<path d="M388.3 651.5L390.9 651.5" stroke="#444" stroke-width="0.5"/>
<path d="M394.1 651.5L403.5 651.5" stroke="#444" stroke-width="0.5"/>
<path d="M390.9 650.3L390.9 652.7" stroke="#444" stroke-width="0.4"/>
<path d="M394.1 650.3L394.1 652.7" stroke="#444" stroke-width="0.4"/>
<path d="M388.3 660.5L390.9 660.5" stroke="#444" stroke-width="0.5"/>
<path d="M390.9 659.3L390.9 661.7" stroke="#444" stroke-width="0.4"/>
<path d="M394.1 659.3L394.1 661.7" stroke="#444" stroke-width="0.4"/>
<rect x="443.7" y="616.5" width="3" height="12.2" stroke="#444" stroke-width="0.5" fill="#ddd"/>
<path d="M443.7 617.8L446.7 617.8" stroke="#333" stroke-width="0.5"/>
<path d="M443.7 620.2L446.7 620.2" stroke="#333" stroke-width="0.5"/>
<path d="M443.7 622.6L446.7 622.6" stroke="#333" stroke-width="0.5"/>
<path d="M443.7 625L446.7 625" stroke="#333" stroke-width="0.5"/>
<path d="M443.7 627.4L446.7 627.4" stroke="#333" stroke-width="0.5"/>
<text transform="translate(447.1 621) scale(0.9 1)" font-family="'Liberation Sans', sans-serif" font-size="3.6" text-anchor="start" fill="#000" stroke="#000" stroke-width="0.2" font-weight="bold">Pa</text>
<text transform="translate(447.1 628.2) scale(0.9 1)" font-family="'Liberation Sans', sans-serif" font-size="3.6" text-anchor="start" fill="#000" stroke="#000" stroke-width="0.2" font-weight="bold">ar</text>
<path d="M446.9 616.5L446.9 629" stroke="#000" stroke-width="0.6"/>
<path d="M438.3 629L441.9 627.5L438.3 626L441.9 624.5L438.3 623" stroke="#777" stroke-width="0.4" fill="none"/>
<path d="M438.3 628.6L438.3 683" stroke="#444" stroke-width="0.5"/>
<path d="M446.7 628.6L446.7 683" stroke="#444" stroke-width="0.5"/>
<path d="M438.3 633.5L445.5 633.5" stroke="#000" stroke-width="1"/>
<path d="M439.3 642.5L446.7 642.5" stroke="#444" stroke-width="0.5"/>
<path d="M438.8 642.5L443 642.5" stroke="#000" stroke-width="1"/>
<path d="M438.3 647L446.7 647" stroke="#444" stroke-width="0.5"/>
<path d="M438.3 665L446.7 665" stroke="#444" stroke-width="0.5"/>
<path d="M438.3 670L446.7 670" stroke="#444" stroke-width="0.5"/>
<path d="M438.3 679L446.7 679" stroke="#444" stroke-width="0.5"/>
<path d="M438.3 683L446.7 683" stroke="#444" stroke-width="0.5"/>
<path d="M440.3 637.2v2M440.3 638.2h1.5M445.7 637.2v2M445.7 638.2h-1.5" stroke="#444" stroke-width="0.4" fill="none"/>
<path d="M438.3 670L446.7 679M446.7 670L438.3 679" stroke="#000" stroke-width="0.9" fill="none"/>
<path d="M442.1 683L442.1 689" stroke="#666" stroke-width="0.8"/>
<path d="M443.3 683L443.3 689" stroke="#666" stroke-width="0.8"/>
<path d="M439.1 689L447.3 689" stroke="#666" stroke-width="1.2"/>
<path d="M433.7 651.5L437.7 649.7L437.7 653.3Z" stroke="#444" stroke-width="0.5" fill="#fff"/>
<path d="M438.3 651.5L440.9 651.5" stroke="#444" stroke-width="0.5"/>
<path d="M444.1 651.5L454.5 651.5" stroke="#444" stroke-width="0.5"/>
<path d="M440.9 650.3L440.9 652.7" stroke="#444" stroke-width="0.4"/>
<path d="M444.1 650.3L444.1 652.7" stroke="#444" stroke-width="0.4"/>
<path d="M438.3 660.5L440.9 660.5" stroke="#444" stroke-width="0.5"/>
<path d="M440.9 659.3L440.9 661.7" stroke="#444" stroke-width="0.4"/>
<path d="M444.1 659.3L444.1 661.7" stroke="#444" stroke-width="0.4"/>
<rect x="491.7" y="616.5" width="3" height="12.2" stroke="#444" stroke-width="0.5" fill="#ddd"/>
<path d="M491.7 617.8L494.7 617.8" stroke="#333" stroke-width="0.5"/>
<path d="M491.7 620.2L494.7 620.2" stroke="#333" stroke-width="0.5"/>
<path d="M491.7 622.6L494.7 622.6" stroke="#333" stroke-width="0.5"/>
<path d="M491.7 625L494.7 625" stroke="#333" stroke-width="0.5"/>
<path d="M491.7 627.4L494.7 627.4" stroke="#333" stroke-width="0.5"/>
<text transform="translate(495.1 621) scale(0.9 1)" font-family="'Liberation Sans', sans-serif" font-size="3.6" text-anchor="start" fill="#000" stroke="#000" stroke-width="0.2" font-weight="bold">Pa</text>
<text transform="translate(495.1 628.2) scale(0.9 1)" font-family="'Liberation Sans', sans-serif" font-size="3.6" text-anchor="start" fill="#000" stroke="#000" stroke-width="0.2" font-weight="bold">ar</text>
<path d="M494.9 616.5L494.9 629" stroke="#000" stroke-width="0.6"/>
<path d="M486.3 629L489.9 627.5L486.3 626L489.9 624.5L486.3 623" stroke="#777" stroke-width="0.4" fill="none"/>
<path d="M486.3 628.6L486.3 683" stroke="#444" stroke-width="0.5"/>
<path d="M494.7 628.6L494.7 683" stroke="#444" stroke-width="0.5"/>
<path d="M486.3 633.5L493.5 633.5" stroke="#000" stroke-width="1"/>
<path d="M487.3 642.5L494.7 642.5" stroke="#444" stroke-width="0.5"/>
<path d="M486.8 642.5L491 642.5" stroke="#000" stroke-width="1"/>
<path d="M486.3 647L494.7 647" stroke="#444" stroke-width="0.5"/>
<path d="M486.3 665L494.7 665" stroke="#444" stroke-width="0.5"/>
<path d="M486.3 670L494.7 670" stroke="#444" stroke-width="0.5"/>
<path d="M486.3 679L494.7 679" stroke="#444" stroke-width="0.5"/>
<path d="M486.3 683L494.7 683" stroke="#444" stroke-width="0.5"/>
<path d="M488.3 637.2v2M488.3 638.2h1.5M493.7 637.2v2M493.7 638.2h-1.5" stroke="#444" stroke-width="0.4" fill="none"/>
<path d="M486.3 670L494.7 679M494.7 670L486.3 679" stroke="#000" stroke-width="0.9" fill="none"/>
<path d="M490.1 683L490.1 689" stroke="#666" stroke-width="0.8"/>
<path d="M491.3 683L491.3 689" stroke="#666" stroke-width="0.8"/>
<path d="M487.1 689L495.3 689" stroke="#666" stroke-width="1.2"/>
<path d="M481.7 651.5L485.7 649.7L485.7 653.3Z" stroke="#444" stroke-width="0.5" fill="#fff"/>
<path d="M486.3 651.5L488.9 651.5" stroke="#444" stroke-width="0.5"/>
<path d="M492.1 651.5L501.5 651.5" stroke="#444" stroke-width="0.5"/>
<path d="M488.9 650.3L488.9 652.7" stroke="#444" stroke-width="0.4"/>
<path d="M492.1 650.3L492.1 652.7" stroke="#444" stroke-width="0.4"/>
<path d="M486.3 660.5L488.9 660.5" stroke="#444" stroke-width="0.5"/>
<path d="M488.9 659.3L488.9 661.7" stroke="#444" stroke-width="0.4"/>
<path d="M492.1 659.3L492.1 661.7" stroke="#444" stroke-width="0.4"/>
<rect x="540.9" y="616.5" width="3" height="12.2" stroke="#444" stroke-width="0.5" fill="#ddd"/>
<path d="M540.9 617.8L543.9 617.8" stroke="#333" stroke-width="0.5"/>
<path d="M540.9 620.2L543.9 620.2" stroke="#333" stroke-width="0.5"/>
<path d="M540.9 622.6L543.9 622.6" stroke="#333" stroke-width="0.5"/>
<path d="M540.9 625L543.9 625" stroke="#333" stroke-width="0.5"/>
<path d="M540.9 627.4L543.9 627.4" stroke="#333" stroke-width="0.5"/>
<text transform="translate(544.3 621) scale(0.9 1)" font-family="'Liberation Sans', sans-serif" font-size="3.6" text-anchor="start" fill="#000" stroke="#000" stroke-width="0.2" font-weight="bold">Pa</text>
<text transform="translate(544.3 628.2) scale(0.9 1)" font-family="'Liberation Sans', sans-serif" font-size="3.6" text-anchor="start" fill="#000" stroke="#000" stroke-width="0.2" font-weight="bold">ar</text>
<path d="M544.1 616.5L544.1 629" stroke="#000" stroke-width="0.6"/>
<path d="M535.5 629L539.1 627.5L535.5 626L539.1 624.5L535.5 623" stroke="#777" stroke-width="0.4" fill="none"/>
<path d="M535.5 628.6L535.5 683" stroke="#444" stroke-width="0.5"/>
<path d="M543.9 628.6L543.9 683" stroke="#444" stroke-width="0.5"/>
<path d="M535.5 633.5L542.7 633.5" stroke="#000" stroke-width="1"/>
<path d="M536.5 642.5L543.9 642.5" stroke="#444" stroke-width="0.5"/>
<path d="M536 642.5L540.2 642.5" stroke="#000" stroke-width="1"/>
<path d="M535.5 647L543.9 647" stroke="#444" stroke-width="0.5"/>
<path d="M535.5 665L543.9 665" stroke="#444" stroke-width="0.5"/>
<path d="M535.5 670L543.9 670" stroke="#444" stroke-width="0.5"/>
<path d="M535.5 679L543.9 679" stroke="#444" stroke-width="0.5"/>
<path d="M535.5 683L543.9 683" stroke="#444" stroke-width="0.5"/>
<path d="M537.5 637.2v2M537.5 638.2h1.5M542.9 637.2v2M542.9 638.2h-1.5" stroke="#444" stroke-width="0.4" fill="none"/>
<path d="M535.5 670L543.9 679M543.9 670L535.5 679" stroke="#000" stroke-width="0.9" fill="none"/>
<path d="M539.3 683L539.3 689" stroke="#666" stroke-width="0.8"/>
<path d="M540.5 683L540.5 689" stroke="#666" stroke-width="0.8"/>
<path d="M536.3 689L544.5 689" stroke="#666" stroke-width="1.2"/>
<path d="M530.9 651.5L534.9 649.7L534.9 653.3Z" stroke="#444" stroke-width="0.5" fill="#fff"/>
<path d="M535.5 651.5L538.1 651.5" stroke="#444" stroke-width="0.5"/>
<path d="M541.3 651.5L551.8 651.5" stroke="#444" stroke-width="0.5"/>
<path d="M538.1 650.3L538.1 652.7" stroke="#444" stroke-width="0.4"/>
<path d="M541.3 650.3L541.3 652.7" stroke="#444" stroke-width="0.4"/>
<path d="M535.5 660.5L538.1 660.5" stroke="#444" stroke-width="0.5"/>
<path d="M538.1 659.3L538.1 661.7" stroke="#444" stroke-width="0.4"/>
<path d="M541.3 659.3L541.3 661.7" stroke="#444" stroke-width="0.4"/>
<path d="M368.5 656.4L607.5 656.4" stroke="#000" stroke-width="0.8"/>
<text class="tb" x="391.06" y="729.6" font-size="6.6" textLength="11.88" lengthAdjust="spacingAndGlyphs">串联</text>
</svg></body></html>
